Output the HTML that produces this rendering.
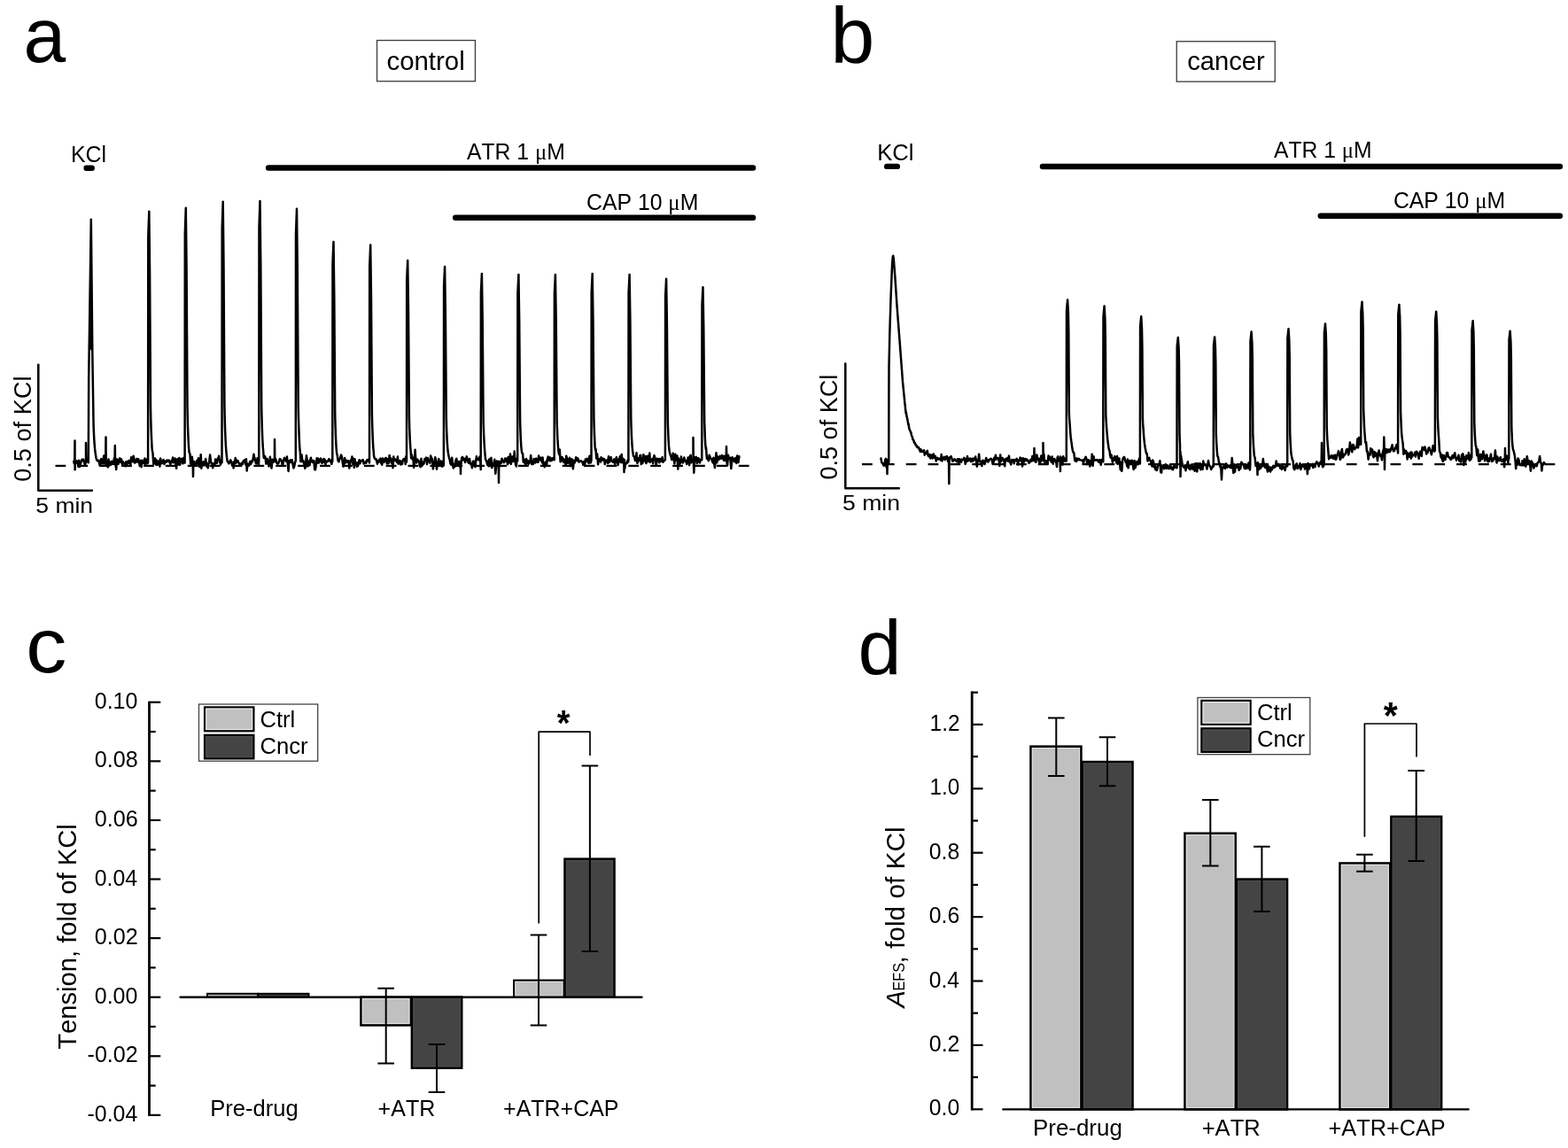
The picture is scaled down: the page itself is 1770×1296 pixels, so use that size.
<!DOCTYPE html>
<html lang="en">
<head>
<meta charset="utf-8">
<title>Figure</title>
<style>
html,body{margin:0;padding:0;background:#fff;}
body{width:1770px;height:1296px;overflow:hidden;}
svg{display:block;}
svg text{font-family:'Liberation Sans', sans-serif;fill:#000;font-kerning:none;}
</style>
</head>
<body>
<svg width="1770" height="1296" viewBox="0 0 1770 1296">
<rect width="1770" height="1296" fill="#fff"/>
<line x1="62.5" y1="525.9" x2="846" y2="525.9" stroke="#000" stroke-width="2.1" stroke-dasharray="11.8 13.08"/>
<line x1="973.0" y1="524.1" x2="1757" y2="524.1" stroke="#000" stroke-width="2.1" stroke-dasharray="11.8 13.055"/>
<path d="M100.7,391.6 L100.8,384.8 L100.9,377.9 L101.0,371.0 L101.1,364.2 L101.2,357.3 L101.3,350.5 L101.4,343.6 L101.5,336.8 L101.6,329.9 L101.7,323.1 L101.8,316.2 L101.9,309.4 L102.0,302.5 L102.1,295.7 L102.2,288.8 L102.3,282.0 L102.4,275.1 L102.5,268.3 L102.6,261.4 L102.7,254.6 L102.8,247.7 L102.9,257.5 L103.0,267.3 L103.1,277.1 L103.2,286.9 L103.3,296.6 L103.4,306.4 L103.5,316.2 L103.6,326.5 L103.7,336.8 L103.8,347.1 L103.9,357.3 L104.0,367.6 L104.1,377.9 L104.2,388.2 L104.3,398.5Z M167.2,394.4 L167.3,267.1 L167.4,264.3 L167.5,261.4 L167.6,258.6 L167.7,255.8 L167.8,253.0 L167.9,250.1 L168.0,247.3 L168.1,244.5 L168.2,241.6 L168.3,238.8 L168.4,247.6 L168.5,256.5 L168.6,265.3 L168.7,274.2 L168.8,283.0 L168.9,291.9 L169.0,300.7 L169.1,309.5 L169.2,326.2 L169.3,342.9 L169.4,359.5 L169.5,376.2 L169.6,392.9 L169.7,409.5 L169.8,426.2 L169.9,442.9 L170.0,459.5Z M208.7,392.6 L208.8,263.4 L208.9,260.5 L209.0,257.7 L209.1,254.8 L209.2,251.9 L209.3,249.1 L209.4,246.2 L209.5,243.3 L209.6,240.4 L209.7,237.6 L209.8,234.7 L209.9,243.7 L210.0,252.6 L210.1,261.6 L210.2,270.6 L210.3,279.6 L210.4,288.5 L210.5,297.5 L210.6,306.5 L210.7,323.4 L210.8,340.3 L210.9,357.2 L211.0,374.1 L211.1,391.0 L211.2,407.9 L211.3,424.8 L211.4,441.7 L211.5,458.6Z M250.6,389.5 L250.7,257.1 L250.8,254.2 L250.9,251.2 L251.0,248.3 L251.1,245.3 L251.2,242.4 L251.3,239.5 L251.4,236.5 L251.5,233.6 L251.6,230.6 L251.7,227.7 L251.8,236.9 L251.9,246.1 L252.0,255.3 L252.1,264.5 L252.2,273.7 L252.3,282.8 L252.4,292.0 L252.5,301.2 L252.6,318.5 L252.7,335.9 L252.8,353.2 L252.9,370.5 L253.0,387.8 L253.1,405.1 L253.2,422.5 L253.3,439.8 L253.4,457.1Z M292.4,389.1 L292.5,256.4 L292.6,253.4 L292.7,250.5 L292.8,247.5 L292.9,244.6 L293.0,241.6 L293.1,238.7 L293.2,235.7 L293.3,232.8 L293.4,229.8 L293.5,226.9 L293.6,236.1 L293.7,245.3 L293.8,254.5 L293.9,263.8 L294.0,273.0 L294.1,282.2 L294.2,291.4 L294.3,300.6 L294.4,318.0 L294.5,335.4 L294.6,352.7 L294.7,370.1 L294.8,387.5 L294.9,404.8 L295.0,422.2 L295.1,439.6 L295.2,456.9Z M333.9,392.7 L334.0,264.3 L334.1,261.5 L334.2,258.6 L334.3,255.8 L334.4,252.9 L334.5,250.1 L334.6,247.2 L334.7,244.4 L334.8,241.5 L334.9,238.7 L335.0,235.8 L335.1,244.7 L335.2,253.6 L335.3,262.5 L335.4,271.5 L335.5,280.4 L335.6,289.3 L335.7,298.2 L335.8,307.1 L335.9,323.9 L336.0,340.7 L336.1,357.5 L336.2,374.3 L336.3,391.1 L336.4,407.9 L336.5,424.7 L336.6,441.5 L336.7,458.3Z M375.4,409.4 L375.5,297.7 L375.6,295.2 L375.7,292.7 L375.8,290.3 L375.9,287.8 L376.0,285.3 L376.1,282.8 L376.2,280.3 L376.3,277.9 L376.4,275.4 L376.5,272.9 L376.6,280.7 L376.7,288.4 L376.8,296.2 L376.9,303.9 L377.0,311.7 L377.1,319.4 L377.2,327.2 L377.3,334.9 L377.4,349.5 L377.5,364.1 L377.6,378.8 L377.7,393.4 L377.8,408.0 L377.9,422.6 L378.0,437.2 L378.1,451.8 L378.2,466.4Z M417.1,411.0 L417.2,301.0 L417.3,298.6 L417.4,296.2 L417.5,293.7 L417.6,291.3 L417.7,288.8 L417.8,286.4 L417.9,283.9 L418.0,281.5 L418.1,279.0 L418.2,276.6 L418.3,284.2 L418.4,291.9 L418.5,299.5 L418.6,307.2 L418.7,314.8 L418.8,322.4 L418.9,330.1 L419.0,337.7 L419.1,352.1 L419.2,366.5 L419.3,380.9 L419.4,395.3 L419.5,409.7 L419.6,424.1 L419.7,438.4 L419.8,452.8 L419.9,467.2Z M459.1,418.8 L459.2,316.7 L459.3,314.4 L459.4,312.2 L459.5,309.9 L459.6,307.6 L459.7,305.3 L459.8,303.1 L459.9,300.8 L460.0,298.5 L460.1,296.3 L460.2,294.0 L460.3,301.1 L460.4,308.2 L460.5,315.3 L460.6,322.4 L460.7,329.5 L460.8,336.6 L460.9,343.7 L461.0,350.8 L461.1,364.1 L461.2,377.5 L461.3,390.9 L461.4,404.2 L461.5,417.6 L461.6,431.0 L461.7,444.3 L461.8,457.7 L461.9,471.1Z M501.0,422.0 L501.1,323.0 L501.2,320.8 L501.3,318.6 L501.4,316.4 L501.5,314.2 L501.6,312.0 L501.7,309.8 L501.8,307.6 L501.9,305.4 L502.0,303.2 L502.1,301.0 L502.2,307.9 L502.3,314.8 L502.4,321.6 L502.5,328.5 L502.6,335.4 L502.7,342.3 L502.8,349.1 L502.9,356.0 L503.0,369.0 L503.1,381.9 L503.2,394.9 L503.3,407.8 L503.4,420.8 L503.5,433.7 L503.6,446.7 L503.7,459.6 L503.8,472.6Z M542.8,425.6 L542.9,330.3 L543.0,328.2 L543.1,326.1 L543.2,323.9 L543.3,321.8 L543.4,319.7 L543.5,317.6 L543.6,315.5 L543.7,313.3 L543.8,311.2 L543.9,309.1 L544.0,315.7 L544.1,322.3 L544.2,329.0 L544.3,335.6 L544.4,342.2 L544.5,348.8 L544.6,355.5 L544.7,362.1 L544.8,374.6 L544.9,387.0 L545.0,399.5 L545.1,412.0 L545.2,424.5 L545.3,436.9 L545.4,449.4 L545.5,461.9 L545.6,474.4Z M584.3,426.0 L584.4,331.0 L584.5,328.9 L584.6,326.8 L584.7,324.7 L584.8,322.6 L584.9,320.5 L585.0,318.3 L585.1,316.2 L585.2,314.1 L585.3,312.0 L585.4,309.9 L585.5,316.5 L585.6,323.1 L585.7,329.7 L585.8,336.3 L585.9,342.9 L586.0,349.5 L586.1,356.1 L586.2,362.7 L586.3,375.1 L586.4,387.5 L586.5,400.0 L586.6,412.4 L586.7,424.8 L586.8,437.3 L586.9,449.7 L587.0,462.1 L587.1,474.6Z M625.8,425.5 L625.9,330.9 L626.0,328.8 L626.1,326.7 L626.2,324.6 L626.3,322.5 L626.4,320.4 L626.5,318.3 L626.6,316.2 L626.7,314.1 L626.8,312.0 L626.9,309.9 L627.0,316.5 L627.1,323.0 L627.2,329.6 L627.3,336.2 L627.4,342.7 L627.5,349.3 L627.6,355.9 L627.7,362.4 L627.8,374.8 L627.9,387.2 L628.0,399.5 L628.1,411.9 L628.2,424.3 L628.3,436.7 L628.4,449.0 L628.5,461.4 L628.6,473.8Z M667.6,425.1 L667.7,330.2 L667.8,328.1 L667.9,326.0 L668.0,323.9 L668.1,321.8 L668.2,319.6 L668.3,317.5 L668.4,315.4 L668.5,313.3 L668.6,311.2 L668.7,309.1 L668.8,315.7 L668.9,322.3 L669.0,328.9 L669.1,335.5 L669.2,342.1 L669.3,348.6 L669.4,355.2 L669.5,361.8 L669.6,374.2 L669.7,386.7 L669.8,399.1 L669.9,411.5 L670.0,423.9 L670.1,436.3 L670.2,448.8 L670.3,461.2 L670.4,473.6Z M709.5,424.9 L709.6,330.8 L709.7,328.7 L709.8,326.6 L709.9,324.5 L710.0,322.4 L710.1,320.4 L710.2,318.3 L710.3,316.2 L710.4,314.1 L710.5,312.0 L710.6,309.9 L710.7,316.4 L710.8,323.0 L710.9,329.5 L711.0,336.0 L711.1,342.6 L711.2,349.1 L711.3,355.6 L711.4,362.2 L711.5,374.5 L711.6,386.8 L711.7,399.1 L711.8,411.4 L711.9,423.7 L712.0,436.1 L712.1,448.4 L712.2,460.7 L712.3,473.0Z M751.0,427.1 L751.1,335.1 L751.2,333.1 L751.3,331.0 L751.4,329.0 L751.5,327.0 L751.6,324.9 L751.7,322.9 L751.8,320.8 L751.9,318.8 L752.0,316.7 L752.1,314.7 L752.2,321.1 L752.3,327.5 L752.4,333.9 L752.5,340.2 L752.6,346.6 L752.7,353.0 L752.8,359.4 L752.9,365.8 L753.0,377.8 L753.1,389.8 L753.2,401.9 L753.3,413.9 L753.4,425.9 L753.5,438.0 L753.6,450.0 L753.7,462.0 L753.8,474.1Z M792.4,431.4 L792.5,343.8 L792.6,341.8 L792.7,339.9 L792.8,337.9 L792.9,336.0 L793.0,334.0 L793.1,332.1 L793.2,330.1 L793.3,328.2 L793.4,326.2 L793.5,324.3 L793.6,330.4 L793.7,336.5 L793.8,342.6 L793.9,348.6 L794.0,354.7 L794.1,360.8 L794.2,366.9 L794.3,373.0 L794.4,384.4 L794.5,395.9 L794.6,407.4 L794.7,418.8 L794.8,430.3 L794.9,441.8 L795.0,453.2 L795.1,464.7 L795.2,476.2Z M1203.9,407.3 L1204.0,350.5 L1204.1,349.4 L1204.2,348.3 L1204.3,347.2 L1204.4,346.1 L1204.5,345.0 L1204.6,343.9 L1204.7,342.8 L1204.8,341.7 L1204.9,340.6 L1205.0,339.5 L1205.1,338.4 L1205.2,340.2 L1205.3,342.0 L1205.4,343.8 L1205.5,345.7 L1205.6,347.5 L1205.7,349.3 L1205.8,351.1 L1205.9,352.9 L1206.0,358.4 L1206.1,363.8 L1206.2,369.3 L1206.3,374.7 L1206.4,392.8 L1206.5,411.0 L1206.6,429.1 L1206.7,447.3 L1206.8,465.4Z M1245.4,412.1 L1245.5,357.2 L1245.6,356.1 L1245.7,355.1 L1245.8,354.0 L1245.9,353.0 L1246.0,351.9 L1246.1,350.8 L1246.2,349.8 L1246.3,348.7 L1246.4,347.6 L1246.5,346.6 L1246.6,345.5 L1246.7,347.3 L1246.8,349.0 L1246.9,350.8 L1247.0,352.5 L1247.1,354.3 L1247.2,356.0 L1247.3,357.8 L1247.4,359.6 L1247.5,364.8 L1247.6,370.1 L1247.7,375.3 L1247.8,380.6 L1247.9,398.2 L1248.0,415.7 L1248.1,433.2 L1248.2,450.8 L1248.3,468.3Z M1287.0,420.1 L1287.1,368.3 L1287.2,367.3 L1287.3,366.3 L1287.4,365.3 L1287.5,364.3 L1287.6,363.3 L1287.7,362.3 L1287.8,361.3 L1287.9,360.3 L1288.0,359.3 L1288.1,358.3 L1288.2,357.3 L1288.3,359.0 L1288.4,360.6 L1288.5,362.3 L1288.6,363.9 L1288.7,365.6 L1288.8,367.3 L1288.9,368.9 L1289.0,370.6 L1289.1,375.5 L1289.2,380.5 L1289.3,385.5 L1289.4,390.4 L1289.5,407.0 L1289.6,423.5 L1289.7,440.1 L1289.8,456.6 L1289.9,473.2Z M1328.6,436.6 L1328.7,390.8 L1328.8,389.9 L1328.9,389.0 L1329.0,388.2 L1329.1,387.3 L1329.2,386.4 L1329.3,385.5 L1329.4,384.6 L1329.5,383.7 L1329.6,382.9 L1329.7,382.0 L1329.8,381.1 L1329.9,382.6 L1330.0,384.0 L1330.1,385.5 L1330.2,387.0 L1330.3,388.4 L1330.4,389.9 L1330.5,391.3 L1330.6,392.8 L1330.7,397.2 L1330.8,401.6 L1330.9,406.0 L1331.0,410.3 L1331.1,426.4 L1331.2,442.5 L1331.3,458.6 L1331.4,474.7 L1331.5,490.8Z M1369.9,436.2 L1370.0,390.2 L1370.1,389.3 L1370.2,388.4 L1370.3,387.6 L1370.4,386.7 L1370.5,385.8 L1370.6,384.9 L1370.7,384.0 L1370.8,383.1 L1370.9,382.2 L1371.0,381.3 L1371.1,380.4 L1371.2,381.9 L1371.3,383.3 L1371.4,384.8 L1371.5,386.3 L1371.6,387.7 L1371.7,389.2 L1371.8,390.7 L1371.9,392.1 L1372.0,396.5 L1372.1,401.0 L1372.2,405.4 L1372.3,409.8 L1372.4,425.9 L1372.5,442.1 L1372.6,458.2 L1372.7,474.4 L1372.8,490.5Z M1411.4,432.6 L1411.5,384.8 L1411.6,383.9 L1411.7,383.0 L1411.8,382.0 L1411.9,381.1 L1412.0,380.2 L1412.1,379.2 L1412.2,378.3 L1412.3,377.4 L1412.4,376.5 L1412.5,375.5 L1412.6,374.6 L1412.7,376.1 L1412.8,377.7 L1412.9,379.2 L1413.0,380.7 L1413.1,382.2 L1413.2,383.8 L1413.3,385.3 L1413.4,386.8 L1413.5,391.4 L1413.6,396.0 L1413.7,400.5 L1413.8,405.1 L1413.9,421.9 L1414.0,438.7 L1414.1,455.4 L1414.2,472.2 L1414.3,489.0Z M1453.3,430.4 L1453.4,381.6 L1453.5,380.7 L1453.6,379.7 L1453.7,378.8 L1453.8,377.8 L1453.9,376.9 L1454.0,375.9 L1454.1,375.0 L1454.2,374.0 L1454.3,373.1 L1454.4,372.1 L1454.5,371.2 L1454.6,372.8 L1454.7,374.3 L1454.8,375.9 L1454.9,377.4 L1455.0,379.0 L1455.1,380.5 L1455.2,382.1 L1455.3,383.7 L1455.4,388.3 L1455.5,393.0 L1455.6,397.7 L1455.7,402.4 L1455.8,419.5 L1455.9,436.6 L1456.0,453.8 L1456.1,470.9 L1456.2,488.1Z M1494.8,425.1 L1494.9,376.2 L1495.0,375.2 L1495.1,374.2 L1495.2,373.2 L1495.3,372.3 L1495.4,371.3 L1495.5,370.3 L1495.6,369.3 L1495.7,368.3 L1495.8,367.4 L1495.9,366.4 L1496.0,365.4 L1496.1,366.9 L1496.2,368.4 L1496.3,370.0 L1496.4,371.5 L1496.5,373.0 L1496.6,374.5 L1496.7,376.0 L1496.8,377.6 L1496.9,382.2 L1497.0,386.9 L1497.1,391.5 L1497.2,396.1 L1497.3,413.3 L1497.4,430.4 L1497.5,447.5 L1497.6,464.7 L1497.7,481.8Z M1536.3,401.2 L1536.4,351.6 L1536.5,350.7 L1536.6,349.7 L1536.7,348.7 L1536.8,347.7 L1536.9,346.7 L1537.0,345.7 L1537.1,344.7 L1537.2,343.8 L1537.3,342.8 L1537.4,341.8 L1537.5,340.8 L1537.6,342.6 L1537.7,344.3 L1537.8,346.1 L1537.9,347.9 L1538.0,349.6 L1538.1,351.4 L1538.2,353.2 L1538.3,354.9 L1538.4,359.9 L1538.5,364.8 L1538.6,369.7 L1538.7,374.7 L1538.8,392.3 L1538.9,409.9 L1539.0,427.4 L1539.1,445.0 L1539.2,462.6Z M1578.2,405.1 L1578.3,354.9 L1578.4,353.9 L1578.5,352.9 L1578.6,351.9 L1578.7,350.9 L1578.8,349.9 L1578.9,348.9 L1579.0,347.9 L1579.1,346.9 L1579.2,345.9 L1579.3,344.9 L1579.4,343.9 L1579.5,345.6 L1579.6,347.3 L1579.7,349.1 L1579.8,350.8 L1579.9,352.5 L1580.0,354.2 L1580.1,355.9 L1580.2,357.6 L1580.3,362.6 L1580.4,367.5 L1580.5,372.4 L1580.6,377.3 L1580.7,395.0 L1580.8,412.8 L1580.9,430.5 L1581.0,448.2 L1581.1,466.0Z M1620.0,411.0 L1620.1,362.2 L1620.2,361.3 L1620.3,360.3 L1620.4,359.4 L1620.5,358.4 L1620.6,357.5 L1620.7,356.5 L1620.8,355.6 L1620.9,354.6 L1621.0,353.7 L1621.1,352.7 L1621.2,351.8 L1621.3,353.5 L1621.4,355.2 L1621.5,356.9 L1621.6,358.6 L1621.7,360.3 L1621.8,362.0 L1621.9,363.7 L1622.0,365.4 L1622.1,370.2 L1622.2,375.0 L1622.3,379.8 L1622.4,384.6 L1622.5,401.9 L1622.6,419.1 L1622.7,436.4 L1622.8,453.7 L1622.9,470.9Z M1661.4,420.8 L1661.5,372.5 L1661.6,371.6 L1661.7,370.7 L1661.8,369.7 L1661.9,368.8 L1662.0,367.9 L1662.1,367.0 L1662.2,366.0 L1662.3,365.1 L1662.4,364.2 L1662.5,363.2 L1662.6,362.3 L1662.7,363.9 L1662.8,365.4 L1662.9,367.0 L1663.0,368.5 L1663.1,370.1 L1663.2,371.7 L1663.3,373.2 L1663.4,374.8 L1663.5,379.4 L1663.6,384.1 L1663.7,388.7 L1663.8,393.4 L1663.9,410.4 L1664.0,427.3 L1664.1,444.3 L1664.2,461.3 L1664.3,478.3Z M1703.4,428.7 L1703.5,383.4 L1703.6,382.5 L1703.7,381.6 L1703.8,380.8 L1703.9,379.9 L1704.0,379.0 L1704.1,378.1 L1704.2,377.3 L1704.3,376.4 L1704.4,375.5 L1704.5,374.7 L1704.6,373.8 L1704.7,375.3 L1704.8,376.8 L1704.9,378.2 L1705.0,379.7 L1705.1,381.2 L1705.2,382.7 L1705.3,384.2 L1705.4,385.6 L1705.5,390.0 L1705.6,394.4 L1705.7,398.8 L1705.8,403.1 L1705.9,419.1 L1706.0,435.0 L1706.1,451.0 L1706.2,466.9 L1706.3,482.9Z" fill="#000" stroke="none"/>
<path d="M83.2,521.0 L83.8,523.3 L84.2,521.8 L84.5,497.5 L84.6,530.3 L84.8,521.8 L85.2,523.1 L86.0,522.5 L86.8,520.4 L87.7,522.6 L88.4,526.8 L89.0,519.8 L89.9,527.0 L90.6,524.8 L91.5,521.5 L92.2,519.0 L93.1,520.1 L93.8,518.5 L94.7,520.1 L95.7,524.1 L96.4,523.9 L96.7,521.8 L97.0,519.3 L97.0,500.0 L97.3,521.8 L97.9,517.4 L98.8,518.5 L99.7,519.6 L99.8,522.2 L99.9,497.8 L100.0,473.8 L100.1,449.8 L100.2,425.9 L100.3,419.0 L100.4,412.2 L100.5,405.3 L100.6,398.5 L100.7,391.6 L100.8,384.8 L100.9,377.9 L101.0,371.0 L101.1,364.2 L101.2,357.3 L101.3,350.5 L101.4,343.6 L101.5,336.8 L101.6,329.9 L101.7,323.1 L101.8,316.2 L101.9,309.4 L102.0,302.5 L102.1,295.7 L102.2,288.8 L102.3,282.0 L102.4,275.1 L102.5,268.3 L102.6,261.4 L102.7,254.6 L102.8,247.7 L102.8,247.7 L102.9,257.5 L103.0,267.3 L103.1,277.1 L103.2,286.9 L103.3,296.6 L103.4,306.4 L103.5,316.2 L103.6,326.5 L103.7,336.8 L103.8,347.1 L103.9,357.3 L104.0,367.6 L104.1,377.9 L104.2,388.2 L104.3,398.5 L104.4,404.8 L104.5,411.1 L104.6,417.4 L104.7,423.8 L104.8,430.1 L104.9,436.4 L105.0,443.2 L105.1,448.7 L105.2,455.6 L105.3,460.5 L105.4,468.5 L105.5,475.5 L105.6,481.2 L105.7,483.3 L106.2,494.5 L106.7,502.1 L107.2,507.7 L107.7,511.6 L108.5,516.8 L109.2,519.5 L110.0,519.6 L110.7,520.7 L111.7,519.8 L112.6,525.5 L113.5,525.4 L114.3,517.9 L115.1,522.8 L115.8,522.2 L116.4,523.5 L117.2,514.4 L118.0,523.2 L118.7,523.6 L119.2,521.8 L119.5,493.5 L119.7,525.2 L119.8,521.8 L120.3,521.7 L121.1,521.3 L121.7,527.4 L122.5,518.4 L123.5,524.8 L124.4,521.6 L125.3,524.7 L126.2,520.8 L127.2,523.7 L128.1,523.8 L128.9,517.3 L129.5,521.8 L129.5,524.2 L129.8,503.0 L130.1,521.8 L130.4,522.2 L131.2,530.0 L131.9,518.4 L132.6,522.5 L133.6,523.7 L134.4,518.7 L135.2,517.4 L136.1,521.8 L137.0,518.4 L138.0,524.8 L138.9,521.3 L139.6,523.0 L140.5,523.0 L141.5,526.2 L142.3,521.3 L142.9,526.1 L143.9,521.0 L144.8,522.8 L145.5,520.0 L146.4,521.6 L147.3,524.9 L148.1,516.2 L149.1,518.5 L149.9,521.2 L150.6,514.7 L151.2,517.0 L152.0,522.6 L152.8,522.1 L153.5,520.4 L154.4,518.0 L155.4,521.6 L156.2,518.2 L157.0,521.7 L157.8,526.1 L158.8,520.1 L159.6,527.2 L160.2,519.8 L160.9,521.9 L161.8,523.0 L162.4,520.9 L163.4,517.5 L164.1,524.7 L165.1,520.9 L165.7,518.5 L166.4,523.3 L167.1,522.3 L167.2,394.4 L167.3,267.1 L167.4,264.3 L167.5,261.4 L167.6,258.6 L167.7,255.8 L167.8,253.0 L167.9,250.1 L168.0,247.3 L168.1,244.5 L168.2,241.6 L168.3,238.8 L168.3,238.8 L168.4,247.6 L168.5,256.5 L168.6,265.3 L168.7,274.2 L168.8,283.0 L168.9,291.9 L169.0,300.7 L169.1,309.5 L169.2,326.2 L169.3,342.9 L169.4,359.5 L169.5,376.2 L169.6,392.9 L169.7,409.5 L169.8,426.2 L169.9,442.7 L170.0,459.5 L170.1,464.2 L170.2,469.5 L170.3,474.1 L170.4,477.6 L170.5,481.0 L170.6,484.9 L171.1,496.4 L171.6,506.6 L172.1,509.8 L172.4,510.8 L173.3,523.8 L174.0,518.4 L175.0,517.3 L176.0,524.6 L176.7,519.6 L177.5,524.9 L178.3,521.8 L178.9,523.2 L179.6,520.1 L180.4,526.6 L181.1,517.4 L182.0,522.1 L182.8,523.1 L183.5,521.2 L184.5,519.0 L185.5,524.0 L186.4,520.7 L187.1,521.3 L187.8,521.7 L188.4,519.5 L189.3,520.6 L190.1,519.7 L190.7,519.6 L191.7,522.6 L192.4,524.3 L193.0,521.2 L193.8,519.8 L194.4,521.8 L195.0,516.6 L195.7,522.3 L196.5,521.8 L197.5,517.4 L198.2,523.5 L199.1,528.8 L200.0,518.4 L200.7,518.3 L201.5,524.6 L202.3,517.1 L203.2,524.7 L203.9,519.8 L204.9,517.9 L205.8,520.3 L206.4,523.3 L207.2,517.0 L207.8,521.6 L208.5,519.5 L208.6,522.5 L208.7,392.6 L208.8,263.4 L208.9,260.5 L209.0,257.7 L209.1,254.8 L209.2,251.9 L209.3,249.1 L209.4,246.2 L209.5,243.3 L209.6,240.4 L209.7,237.6 L209.8,234.7 L209.8,234.7 L209.9,243.7 L210.0,252.6 L210.1,261.6 L210.2,270.6 L210.3,279.6 L210.4,288.5 L210.5,297.5 L210.6,306.5 L210.7,323.4 L210.8,340.3 L210.9,357.2 L211.0,374.1 L211.1,391.0 L211.2,407.9 L211.3,424.8 L211.4,441.8 L211.5,458.9 L211.6,462.8 L211.7,469.0 L211.8,472.8 L211.9,476.6 L212.0,480.8 L212.1,483.6 L212.6,496.6 L213.1,505.7 L213.6,510.8 L214.4,512.1 L215.2,523.6 L216.2,524.8 L216.8,515.7 L217.6,522.8 L217.7,521.8 L218.0,538.0 L218.3,523.5 L218.3,521.8 L218.9,521.0 L219.9,525.5 L220.9,525.9 L221.6,521.5 L222.4,519.7 L223.1,523.5 L224.0,517.2 L224.9,526.8 L225.9,526.5 L226.7,513.2 L227.4,528.7 L228.1,523.1 L228.8,522.2 L229.5,521.4 L230.3,525.4 L231.2,523.4 L232.2,517.9 L233.1,526.4 L234.0,523.3 L234.7,528.3 L235.5,523.9 L236.2,521.2 L237.1,513.6 L237.9,520.4 L238.6,522.9 L239.4,523.0 L240.2,528.2 L240.8,524.1 L241.5,523.3 L242.4,525.6 L243.1,518.6 L243.9,521.2 L244.9,522.7 L245.7,517.7 L246.4,517.5 L247.1,514.8 L248.1,521.1 L249.0,524.5 L249.6,519.7 L250.5,522.2 L250.6,389.5 L250.7,257.1 L250.8,254.2 L250.9,251.2 L251.0,248.3 L251.1,245.3 L251.2,242.4 L251.3,239.5 L251.4,236.5 L251.5,233.6 L251.6,230.6 L251.7,227.7 L251.7,227.7 L251.8,236.9 L251.9,246.1 L252.0,255.3 L252.1,264.5 L252.2,273.7 L252.3,282.8 L252.4,292.0 L252.5,301.2 L252.6,318.5 L252.7,335.9 L252.8,353.2 L252.9,370.5 L253.0,387.8 L253.1,405.1 L253.2,422.5 L253.3,439.6 L253.4,456.8 L253.5,462.3 L253.6,466.7 L253.7,471.6 L253.8,475.3 L253.9,478.8 L254.0,482.5 L254.5,495.2 L255.0,505.2 L255.5,510.9 L256.1,516.5 L256.7,521.1 L257.5,521.2 L258.3,523.3 L259.3,521.5 L260.3,519.4 L261.3,522.0 L262.0,525.2 L262.8,522.3 L263.6,528.4 L264.4,520.8 L265.1,523.2 L265.7,517.1 L266.5,522.7 L267.4,519.8 L268.4,519.9 L269.1,521.9 L270.1,523.6 L271.1,524.2 L271.7,524.6 L272.7,522.9 L273.7,524.2 L274.6,520.7 L275.3,520.3 L276.0,519.3 L276.6,521.3 L277.2,524.5 L277.9,518.3 L278.7,531.5 L279.4,523.5 L280.4,525.9 L281.3,525.2 L282.3,520.9 L283.2,524.0 L284.2,520.2 L284.9,521.3 L285.5,519.2 L286.4,512.8 L287.2,516.4 L288.2,520.1 L289.0,523.3 L289.7,523.4 L290.6,517.2 L291.3,520.6 L292.0,524.4 L292.3,519.6 L292.4,389.1 L292.5,256.4 L292.6,253.4 L292.7,250.5 L292.8,247.5 L292.9,244.6 L293.0,241.6 L293.1,238.7 L293.2,235.7 L293.3,232.8 L293.4,229.8 L293.5,226.9 L293.6,236.1 L293.7,245.3 L293.8,254.5 L293.9,263.8 L294.0,273.0 L294.1,282.2 L294.2,291.4 L294.3,300.6 L294.4,318.0 L294.5,335.4 L294.6,352.7 L294.7,370.1 L294.8,387.5 L294.9,404.8 L295.0,422.2 L295.1,439.6 L295.2,456.7 L295.3,462.4 L295.4,468.1 L295.5,471.0 L295.6,475.3 L295.7,478.6 L295.8,482.7 L296.3,496.3 L296.8,504.9 L297.3,510.6 L297.8,517.0 L298.8,514.8 L299.6,516.7 L300.3,523.6 L300.9,523.4 L301.7,518.1 L302.5,521.5 L303.5,526.4 L304.3,523.4 L304.9,515.8 L305.6,524.0 L306.5,528.5 L307.5,518.8 L308.4,521.7 L309.3,519.5 L309.7,521.0 L309.9,519.6 L310.0,496.0 L310.3,521.0 L310.6,517.5 L311.3,518.5 L312.1,522.0 L313.0,523.4 L313.7,523.4 L314.5,522.8 L315.2,520.0 L315.9,518.1 L316.6,518.4 L317.6,519.9 L318.3,522.6 L318.9,525.6 L319.7,522.3 L320.5,518.2 L321.1,516.9 L321.7,519.6 L322.5,519.3 L323.3,521.0 L323.9,515.6 L324.6,521.3 L325.6,532.0 L326.3,520.5 L327.2,521.8 L327.9,519.4 L328.8,521.9 L329.6,519.3 L330.3,522.6 L331.3,528.4 L332.2,526.6 L333.0,522.4 L333.8,520.0 L333.9,392.7 L334.0,264.3 L334.1,261.5 L334.2,258.6 L334.3,255.8 L334.4,252.9 L334.5,250.1 L334.6,247.2 L334.7,244.4 L334.8,241.5 L334.9,238.7 L335.0,235.8 L335.1,244.7 L335.2,253.6 L335.3,262.5 L335.4,271.5 L335.5,280.4 L335.6,289.3 L335.7,298.2 L335.8,307.1 L335.9,323.9 L336.0,340.7 L336.1,357.5 L336.2,374.3 L336.3,391.1 L336.4,407.9 L336.5,424.7 L336.6,441.4 L336.7,457.7 L336.8,463.1 L336.9,468.8 L337.0,472.2 L337.1,475.6 L337.2,479.0 L337.3,482.1 L337.8,495.6 L338.3,505.7 L338.8,510.0 L339.4,521.0 L340.0,516.5 L340.6,513.4 L341.4,521.3 L342.4,520.0 L343.3,523.7 L344.3,528.8 L344.9,527.3 L345.9,514.2 L346.8,520.1 L347.6,526.4 L348.3,520.7 L348.9,524.5 L349.6,525.2 L350.2,519.2 L350.9,516.8 L351.8,520.2 L352.7,522.0 L353.5,520.1 L354.4,520.2 L355.2,530.1 L356.0,530.3 L356.7,525.4 L357.7,517.2 L358.3,522.5 L359.1,517.7 L359.8,522.5 L360.6,521.2 L361.3,521.0 L361.9,517.5 L362.8,519.0 L363.5,523.1 L364.1,520.1 L365.0,521.6 L365.6,518.0 L366.5,518.5 L367.4,524.5 L368.1,521.7 L368.9,520.5 L369.5,521.1 L370.5,520.5 L371.2,518.2 L372.1,518.8 L372.8,520.7 L373.7,521.9 L374.4,523.8 L375.2,516.9 L375.3,520.8 L375.4,409.4 L375.5,297.7 L375.6,295.2 L375.7,292.7 L375.8,290.3 L375.9,287.8 L376.0,285.3 L376.1,282.8 L376.2,280.3 L376.3,277.9 L376.4,275.4 L376.5,272.9 L376.6,280.7 L376.7,288.4 L376.8,296.2 L376.9,303.9 L377.0,311.7 L377.1,319.4 L377.2,327.2 L377.3,334.9 L377.4,349.5 L377.5,364.1 L377.6,378.8 L377.7,393.4 L377.8,408.0 L377.9,422.6 L378.0,437.2 L378.1,451.2 L378.2,466.2 L378.3,471.4 L378.4,475.4 L378.5,478.4 L378.6,481.4 L379.1,495.6 L379.6,505.3 L380.1,511.5 L380.7,513.8 L381.6,520.1 L382.4,521.3 L383.3,518.4 L384.2,516.4 L385.1,513.6 L386.1,516.5 L386.8,522.8 L387.7,526.8 L388.3,524.1 L389.2,516.9 L390.1,522.4 L391.0,520.9 L391.7,519.9 L392.7,521.9 L393.6,520.3 L394.3,528.6 L395.2,522.4 L396.1,519.3 L396.8,519.2 L397.4,515.4 L398.2,523.9 L398.9,517.7 L399.8,528.0 L400.5,518.3 L401.2,522.7 L402.0,522.2 L402.9,526.8 L403.5,522.5 L404.1,525.9 L404.9,521.6 L405.7,519.2 L406.4,523.3 L407.3,520.2 L407.9,520.2 L408.8,520.1 L409.6,519.1 L410.6,523.4 L411.6,523.0 L412.5,521.3 L413.3,522.6 L414.1,519.5 L415.0,519.3 L415.6,518.8 L416.5,520.9 L417.0,522.4 L417.1,411.0 L417.2,301.0 L417.3,298.6 L417.4,296.2 L417.5,293.7 L417.6,291.3 L417.7,288.8 L417.8,286.4 L417.9,283.9 L418.0,281.5 L418.1,279.0 L418.2,276.6 L418.3,284.2 L418.4,291.9 L418.5,299.5 L418.6,307.2 L418.7,314.8 L418.8,322.4 L418.9,330.1 L419.0,337.7 L419.1,352.1 L419.2,366.5 L419.3,380.9 L419.4,395.3 L419.5,409.7 L419.6,424.1 L419.7,438.4 L419.8,452.9 L419.9,467.6 L420.0,471.3 L420.1,475.0 L420.2,478.8 L420.3,482.5 L420.8,496.0 L421.3,505.1 L421.8,510.7 L422.1,514.8 L422.8,517.4 L423.8,518.5 L424.6,518.2 L425.3,521.2 L426.0,523.6 L426.9,521.5 L427.8,519.3 L428.5,521.3 L429.5,517.4 L430.3,522.7 L431.2,524.8 L432.1,517.5 L433.0,518.5 L433.6,521.7 L434.5,520.0 L435.3,516.9 L436.1,517.2 L436.8,523.4 L437.7,518.3 L438.3,523.2 L439.0,522.4 L439.6,514.0 L440.4,520.3 L441.4,517.5 L442.1,523.0 L442.9,520.3 L443.5,528.2 L444.3,515.6 L445.1,520.1 L445.8,518.4 L446.7,518.9 L447.5,520.6 L448.2,521.9 L448.9,515.6 L449.6,523.7 L450.6,520.4 L451.3,520.0 L452.3,524.6 L453.2,520.7 L454.0,523.9 L454.6,520.6 L455.3,518.6 L456.1,518.1 L457.1,517.7 L457.7,524.1 L458.3,515.2 L459.0,521.5 L459.1,418.8 L459.2,316.7 L459.3,314.4 L459.4,312.2 L459.5,309.9 L459.6,307.6 L459.7,305.3 L459.8,303.1 L459.9,300.8 L460.0,298.5 L460.1,296.3 L460.2,294.0 L460.3,301.1 L460.4,308.2 L460.5,315.3 L460.6,322.4 L460.7,329.5 L460.8,336.6 L460.9,343.7 L461.0,350.8 L461.1,364.1 L461.2,377.5 L461.3,390.9 L461.4,404.2 L461.5,417.6 L461.6,431.0 L461.7,444.3 L461.8,456.4 L461.9,471.9 L462.0,475.3 L462.1,478.3 L462.2,482.9 L462.7,494.9 L463.2,503.9 L463.7,509.9 L464.1,517.2 L464.8,513.2 L465.6,518.5 L466.4,516.6 L467.1,527.9 L467.8,523.3 L468.6,507.8 L469.3,519.4 L470.2,522.5 L471.2,518.5 L472.1,520.5 L472.9,520.5 L473.7,524.6 L474.6,527.2 L475.5,517.8 L476.3,526.1 L477.2,521.8 L478.0,524.1 L478.7,522.4 L479.4,518.3 L480.4,518.0 L481.1,516.6 L482.0,524.1 L482.9,517.1 L483.5,520.9 L484.5,521.3 L485.4,522.6 L486.2,514.6 L487.1,517.3 L488.0,518.4 L488.9,529.4 L489.8,522.1 L490.6,523.3 L491.3,516.3 L492.1,519.7 L493.0,529.7 L493.6,525.0 L494.6,524.7 L495.2,518.0 L496.2,523.6 L497.0,524.5 L497.6,520.6 L498.5,526.6 L499.5,526.4 L500.1,520.6 L500.7,525.7 L500.9,521.0 L501.0,422.0 L501.1,323.0 L501.2,320.8 L501.3,318.6 L501.4,316.4 L501.5,314.2 L501.6,312.0 L501.7,309.8 L501.8,307.6 L501.9,305.4 L502.0,303.2 L502.1,301.0 L502.2,307.9 L502.3,314.8 L502.4,321.6 L502.5,328.5 L502.6,335.4 L502.7,342.3 L502.8,349.1 L502.9,356.0 L503.0,369.0 L503.1,381.9 L503.2,394.9 L503.3,407.8 L503.4,420.8 L503.5,433.7 L503.6,446.7 L503.7,459.6 L503.8,471.4 L503.9,475.7 L504.0,480.0 L504.1,483.7 L504.6,496.1 L505.1,503.9 L505.6,509.5 L505.9,511.5 L506.8,516.1 L507.7,519.2 L508.5,523.4 L509.4,524.8 L510.2,516.8 L511.1,524.4 L511.8,528.5 L512.7,524.0 L513.6,526.6 L514.3,520.2 L515.3,517.7 L516.2,524.2 L516.9,523.3 L517.8,521.0 L518.7,526.5 L519.7,522.5 L519.7,521.0 L520.0,535.0 L520.3,521.0 L520.4,524.2 L521.3,516.6 L522.0,515.9 L522.9,519.2 L523.6,517.5 L524.2,518.2 L525.1,521.9 L526.1,517.8 L526.8,515.4 L527.6,517.9 L528.4,521.7 L529.3,522.8 L530.1,518.0 L530.7,523.1 L531.5,524.3 L532.1,523.6 L532.9,528.3 L533.8,520.9 L534.7,520.6 L535.6,526.2 L536.6,527.2 L537.2,520.5 L537.9,515.3 L538.8,518.9 L539.5,518.5 L540.4,519.3 L541.3,516.2 L542.0,515.2 L542.7,530.1 L542.7,519.9 L542.8,425.6 L542.9,330.3 L543.0,328.2 L543.1,326.1 L543.2,323.9 L543.3,321.8 L543.4,319.7 L543.5,317.6 L543.6,315.5 L543.7,313.3 L543.8,311.2 L543.9,309.1 L544.0,315.7 L544.1,322.3 L544.2,329.0 L544.3,335.6 L544.4,342.2 L544.5,348.8 L544.6,355.5 L544.7,362.1 L544.8,374.6 L544.9,387.0 L545.0,399.5 L545.1,412.0 L545.2,424.5 L545.3,436.9 L545.4,449.4 L545.5,462.6 L545.6,473.8 L545.7,478.6 L545.8,480.9 L546.3,494.4 L546.8,503.5 L547.3,510.5 L548.0,518.3 L548.7,519.8 L549.4,521.4 L550.2,524.8 L550.8,520.8 L551.5,526.2 L552.2,518.4 L552.8,526.1 L553.6,518.4 L554.5,516.8 L555.2,528.1 L556.0,524.7 L556.8,525.8 L557.5,522.4 L558.3,518.7 L559.3,534.7 L560.1,526.5 L560.9,520.5 L561.7,523.3 L562.7,522.2 L562.7,521.0 L563.0,545.0 L563.3,521.0 L563.6,527.0 L564.4,521.5 L565.1,520.9 L565.7,522.8 L566.5,517.8 L567.2,519.5 L568.1,520.3 L568.7,522.1 L569.5,521.6 L570.2,517.4 L571.1,517.9 L571.7,520.7 L572.3,517.9 L573.0,524.3 L573.6,516.0 L574.4,522.6 L575.4,519.3 L576.0,512.6 L576.8,523.9 L577.5,519.8 L578.2,515.6 L578.9,521.0 L579.9,519.9 L580.7,509.5 L581.4,520.3 L582.1,524.5 L582.9,526.5 L583.5,517.8 L584.2,520.3 L584.3,426.0 L584.4,331.0 L584.5,328.9 L584.6,326.8 L584.7,324.7 L584.8,322.6 L584.9,320.5 L585.0,318.3 L585.1,316.2 L585.2,314.1 L585.3,312.0 L585.4,309.9 L585.5,316.5 L585.6,323.1 L585.7,329.7 L585.8,336.3 L585.9,342.9 L586.0,349.5 L586.1,356.1 L586.2,362.7 L586.3,375.1 L586.4,387.5 L586.5,400.0 L586.6,412.4 L586.7,424.8 L586.8,437.3 L586.9,449.7 L587.0,462.0 L587.1,474.2 L587.2,478.0 L587.3,482.3 L587.8,494.7 L588.3,503.8 L588.8,509.0 L589.3,511.4 L590.1,512.0 L590.8,521.7 L591.7,518.8 L592.5,522.4 L593.4,525.5 L594.1,518.0 L595.0,523.0 L595.9,520.1 L596.7,523.9 L597.3,522.3 L598.3,522.2 L599.2,514.0 L600.2,524.2 L601.0,520.9 L601.9,523.7 L602.7,518.1 L603.7,519.4 L604.3,522.5 L605.3,517.6 L606.1,519.8 L606.7,521.7 L607.5,521.8 L608.1,514.5 L608.9,518.4 L609.6,519.2 L610.4,516.8 L611.2,520.1 L611.9,522.1 L612.5,516.4 L613.4,524.8 L614.1,522.5 L614.7,527.2 L615.5,522.7 L616.4,521.1 L617.1,524.8 L617.8,518.8 L618.7,515.6 L619.5,516.1 L620.4,520.2 L621.3,516.6 L621.9,520.2 L622.8,519.8 L623.8,517.2 L624.7,518.6 L625.5,516.8 L625.7,519.3 L625.8,425.5 L625.9,330.9 L626.0,328.8 L626.1,326.7 L626.2,324.6 L626.3,322.5 L626.4,320.4 L626.5,318.3 L626.6,316.2 L626.7,314.1 L626.8,312.0 L626.9,309.9 L627.0,316.5 L627.1,323.0 L627.2,329.6 L627.3,336.2 L627.4,342.7 L627.5,349.3 L627.6,355.9 L627.7,362.4 L627.8,374.8 L627.9,387.2 L628.0,399.5 L628.1,411.9 L628.2,424.3 L628.3,436.7 L628.4,449.0 L628.5,461.5 L628.6,474.6 L628.7,478.5 L628.8,480.2 L629.3,494.1 L629.8,501.9 L630.3,508.6 L631.1,513.0 L631.8,507.6 L632.6,521.3 L633.6,519.8 L634.4,515.9 L635.3,517.7 L636.0,521.7 L636.9,518.6 L637.6,519.8 L638.5,525.6 L639.2,514.7 L640.2,518.0 L640.9,523.1 L641.9,521.7 L642.9,516.8 L643.8,526.3 L644.5,519.6 L645.3,518.1 L646.1,519.9 L646.9,529.3 L647.8,519.8 L648.6,522.6 L649.5,520.1 L650.2,516.2 L651.0,520.1 L652.0,517.2 L652.7,518.6 L653.3,521.5 L654.2,521.1 L655.2,520.4 L655.9,520.2 L656.6,521.1 L657.6,522.1 L658.3,524.6 L659.2,520.9 L660.0,526.0 L660.9,518.4 L661.9,521.0 L662.8,517.7 L663.8,520.1 L664.5,523.0 L665.5,514.7 L666.1,520.5 L666.8,522.4 L667.4,519.6 L667.5,520.0 L667.6,425.1 L667.7,330.2 L667.8,328.1 L667.9,326.0 L668.0,323.9 L668.1,321.8 L668.2,319.6 L668.3,317.5 L668.4,315.4 L668.5,313.3 L668.6,311.2 L668.7,309.1 L668.8,315.7 L668.9,322.3 L669.0,328.9 L669.1,335.5 L669.2,342.1 L669.3,348.6 L669.4,355.2 L669.5,361.8 L669.6,374.2 L669.7,386.7 L669.8,399.1 L669.9,411.5 L670.0,423.9 L670.1,436.3 L670.2,448.8 L670.3,461.6 L670.4,473.9 L670.5,476.7 L670.6,480.0 L671.1,493.2 L671.6,503.9 L672.1,508.0 L672.5,506.8 L673.2,517.5 L674.1,512.4 L675.1,524.3 L675.8,517.9 L676.5,520.2 L677.3,518.3 L678.0,521.6 L678.6,516.2 L679.5,519.7 L680.4,517.6 L681.0,518.9 L682.0,518.1 L682.8,524.0 L683.6,519.7 L684.3,521.1 L685.2,519.4 L686.1,523.0 L687.0,515.2 L687.9,521.8 L688.7,517.5 L689.6,516.1 L690.5,520.6 L691.4,521.3 L692.0,521.7 L692.7,520.4 L693.3,518.4 L694.2,524.0 L695.1,519.9 L695.9,516.0 L696.8,519.8 L697.6,525.1 L698.3,520.5 L699.2,518.0 L700.0,515.1 L700.8,522.1 L701.7,512.9 L702.6,522.2 L703.5,518.0 L704.2,519.0 L704.3,519.3 L704.5,533.0 L704.8,519.0 L705.2,529.0 L706.1,522.7 L707.0,523.2 L707.7,523.0 L708.4,519.8 L709.3,521.5 L709.4,519.9 L709.5,424.9 L709.6,330.8 L709.7,328.7 L709.8,326.6 L709.9,324.5 L710.0,322.4 L710.1,320.4 L710.2,318.3 L710.3,316.2 L710.4,314.1 L710.5,312.0 L710.6,309.9 L710.7,316.4 L710.8,323.0 L710.9,329.5 L711.0,336.0 L711.1,342.6 L711.2,349.1 L711.3,355.6 L711.4,362.2 L711.5,374.5 L711.6,386.8 L711.7,399.1 L711.8,411.4 L711.9,423.7 L712.0,436.1 L712.1,448.4 L712.2,460.8 L712.3,473.5 L712.4,475.7 L712.5,480.3 L713.0,493.6 L713.5,502.1 L714.0,508.1 L715.0,514.9 L715.7,515.1 L716.4,517.1 L717.1,520.1 L717.9,515.8 L718.5,511.3 L719.4,523.0 L720.2,521.3 L721.0,517.2 L721.6,519.8 L722.5,514.1 L723.2,513.9 L723.8,524.1 L724.6,519.9 L725.4,522.9 L726.3,513.3 L727.2,518.1 L728.0,520.7 L728.8,515.1 L729.4,523.1 L730.2,521.0 L731.2,514.8 L732.0,520.4 L732.7,521.1 L733.3,511.6 L733.9,521.8 L734.6,519.0 L735.6,518.8 L736.3,518.1 L737.1,523.3 L737.9,516.2 L738.5,514.2 L739.3,516.4 L739.9,517.9 L740.7,525.5 L741.7,517.8 L742.6,519.4 L743.4,518.0 L744.2,522.3 L745.0,518.0 L745.9,520.9 L746.7,519.3 L747.6,516.3 L748.4,521.8 L749.1,520.4 L749.9,520.2 L750.9,519.0 L750.9,517.9 L751.0,427.1 L751.1,335.1 L751.2,333.1 L751.3,331.0 L751.4,329.0 L751.5,327.0 L751.6,324.9 L751.7,322.9 L751.8,320.8 L751.9,318.8 L752.0,316.7 L752.1,314.7 L752.2,321.1 L752.3,327.5 L752.4,333.9 L752.5,340.2 L752.6,346.6 L752.7,353.0 L752.8,359.4 L752.9,365.8 L753.0,377.8 L753.1,389.8 L753.2,401.9 L753.3,413.9 L753.4,425.9 L753.5,438.0 L753.6,450.0 L753.7,462.9 L753.8,473.4 L753.9,477.6 L754.0,481.5 L754.5,494.2 L755.0,503.4 L755.5,508.1 L755.7,509.7 L756.6,513.1 L757.5,515.5 L758.3,519.1 L759.0,518.6 L759.7,511.7 L760.4,517.4 L761.4,523.4 L762.3,512.8 L763.0,516.4 L763.7,519.4 L764.4,514.5 L765.3,529.6 L765.9,517.5 L766.8,524.2 L767.5,523.5 L768.3,521.1 L768.9,515.6 L769.8,520.5 L770.7,522.5 L771.4,521.6 L772.3,516.4 L772.9,518.1 L773.8,520.4 L774.5,521.3 L775.2,524.0 L775.9,520.7 L776.7,516.5 L777.5,520.3 L778.1,525.2 L778.8,515.1 L779.6,513.9 L780.3,522.3 L780.9,519.4 L781.8,518.7 L782.2,519.0 L782.5,521.4 L782.5,494.0 L782.8,519.0 L783.3,533.8 L784.2,516.5 L785.1,516.1 L785.8,515.8 L786.8,523.2 L787.7,517.3 L788.5,517.2 L789.3,521.6 L790.0,522.4 L790.7,518.8 L791.4,519.2 L792.2,519.3 L792.3,517.9 L792.4,431.4 L792.5,343.8 L792.6,341.8 L792.7,339.9 L792.8,337.9 L792.9,336.0 L793.0,334.0 L793.1,332.1 L793.2,330.1 L793.3,328.2 L793.4,326.2 L793.5,324.3 L793.6,330.4 L793.7,336.5 L793.8,342.6 L793.9,348.6 L794.0,354.7 L794.1,360.8 L794.2,366.9 L794.3,373.0 L794.4,384.4 L794.5,395.9 L794.6,407.4 L794.7,418.8 L794.8,430.3 L794.9,441.8 L795.0,453.2 L795.1,464.9 L795.2,476.5 L795.3,478.6 L795.8,493.6 L796.3,502.6 L796.8,507.2 L797.0,505.0 L797.9,517.7 L798.6,518.0 L799.3,518.7 L799.9,520.2 L800.6,513.7 L801.3,515.1 L802.3,517.9 L803.2,518.2 L803.9,520.4 L804.7,522.4 L805.4,516.7 L806.2,523.4 L806.9,528.0 L807.7,520.1 L808.5,511.2 L809.3,522.3 L809.9,515.4 L810.6,515.8 L811.2,519.1 L812.0,517.7 L812.8,514.9 L813.6,517.5 L814.3,517.8 L815.0,514.1 L816.0,516.7 L817.0,519.7 L817.6,514.7 L818.3,519.7 L819.0,515.4 L819.6,517.7 L819.7,519.0 L820.0,504.0 L820.3,519.0 L820.5,522.0 L821.1,525.5 L822.0,513.7 L822.7,518.2 L823.5,517.2 L824.3,516.9 L825.3,529.0 L826.0,522.1 L826.6,516.2 L827.6,517.8 L828.3,519.0 L829.0,521.3 L829.9,517.4 L830.6,517.0 L831.3,522.9 L832.2,514.4 L832.9,517.3 L833.5,522.0 L834.4,515.2" fill="none" stroke="#000" stroke-width="2.5" stroke-linejoin="round" stroke-linecap="round"/>
<path d="M994.5,517.6 L995.3,522.4 L996.1,522.7 L997.0,524.5 L997.8,525.8 L998.4,524.2 L999.4,518.9 L1000.0,517.8 L1000.6,527.3 L1001.2,521.2 L1001.4,523.3 L1001.5,535.0 L1001.8,521.2 L1002.2,518.9 L1003.0,518.5 L1003.3,521.8 L1003.4,451.4 L1003.5,414.2 L1003.6,409.6 L1003.7,404.9 L1003.8,400.3 L1003.9,395.6 L1004.0,391.0 L1004.1,386.3 L1004.2,381.7 L1004.3,377.0 L1004.4,373.8 L1004.5,370.6 L1004.6,367.4 L1004.7,364.2 L1004.8,360.9 L1004.9,357.7 L1005.0,354.5 L1005.1,351.3 L1005.2,348.1 L1005.3,344.8 L1005.4,341.6 L1005.5,338.4 L1005.6,335.2 L1005.7,332.7 L1005.8,330.2 L1005.9,327.7 L1006.0,325.3 L1006.1,322.8 L1006.2,320.3 L1006.3,317.8 L1006.4,315.3 L1006.5,312.8 L1006.6,310.4 L1006.7,307.9 L1006.8,305.4 L1006.9,302.9 L1007.0,300.4 L1007.1,298.0 L1007.2,296.8 L1007.3,295.6 L1007.4,294.5 L1007.5,293.3 L1007.6,292.1 L1007.7,291.0 L1007.8,289.8 L1007.9,289.5 L1008.0,289.2 L1008.1,289.0 L1008.2,288.7 L1008.3,289.1 L1008.4,289.6 L1008.5,290.1 L1008.6,290.5 L1008.7,291.0 L1008.8,292.3 L1008.9,293.6 L1009.0,294.9 L1009.1,296.2 L1009.2,297.5 L1009.3,298.8 L1009.4,300.1 L1009.5,301.4 L1009.6,302.7 L1009.7,304.0 L1009.8,305.3 L1009.9,306.6 L1010.0,307.9 L1010.1,309.2 L1010.2,310.5 L1010.3,311.8 L1010.4,313.1 L1010.5,314.6 L1010.6,316.1 L1010.7,317.6 L1010.8,319.2 L1010.9,320.7 L1011.0,322.2 L1011.1,323.7 L1011.2,325.3 L1011.3,326.8 L1011.4,328.3 L1011.5,329.9 L1011.6,331.4 L1011.7,332.9 L1011.8,334.4 L1011.9,336.0 L1012.0,337.5 L1012.1,339.0 L1012.2,340.5 L1012.3,342.1 L1012.4,343.6 L1012.5,345.1 L1012.6,346.4 L1012.7,347.7 L1012.8,349.0 L1012.9,350.3 L1013.0,351.6 L1013.1,352.9 L1013.2,354.3 L1013.3,355.6 L1013.4,356.9 L1013.5,358.2 L1013.6,359.5 L1013.7,360.8 L1013.8,362.1 L1013.9,363.4 L1014.0,364.7 L1014.1,366.0 L1014.2,367.3 L1014.3,368.6 L1014.4,369.9 L1014.5,371.2 L1014.6,372.5 L1014.7,373.8 L1014.8,375.1 L1014.9,376.4 L1015.0,377.7 L1015.1,379.0 L1015.2,380.3 L1015.3,381.6 L1015.4,382.9 L1015.5,384.2 L1015.6,385.5 L1015.7,386.8 L1015.8,388.1 L1015.9,389.5 L1016.0,390.8 L1016.1,392.1 L1016.2,393.5 L1016.3,394.8 L1016.4,396.1 L1016.5,397.5 L1016.6,398.8 L1016.7,400.2 L1016.8,401.5 L1016.9,402.8 L1017.0,404.2 L1017.1,405.5 L1017.2,406.8 L1017.3,408.2 L1017.4,409.5 L1017.5,410.8 L1017.6,412.2 L1017.7,413.5 L1017.8,414.8 L1017.9,416.2 L1018.0,417.5 L1018.1,418.9 L1018.2,420.2 L1018.3,421.5 L1018.4,422.9 L1018.5,424.2 L1018.6,425.5 L1018.7,426.9 L1018.8,428.2 L1018.9,429.5 L1019.0,430.9 L1019.1,431.9 L1019.2,432.9 L1019.3,433.9 L1019.4,434.9 L1019.5,435.9 L1019.6,436.9 L1019.7,438.0 L1019.8,439.0 L1019.9,440.0 L1020.0,441.0 L1020.1,442.0 L1020.2,443.0 L1020.3,444.0 L1020.4,445.0 L1020.5,446.0 L1020.6,447.0 L1020.7,448.0 L1020.8,449.1 L1020.9,450.1 L1021.0,451.1 L1021.1,452.2 L1021.2,453.0 L1021.3,454.3 L1021.4,455.7 L1021.5,456.6 L1021.6,456.4 L1021.7,458.1 L1021.8,458.1 L1021.9,460.1 L1022.0,461.0 L1022.1,462.3 L1022.2,462.9 L1022.3,463.8 L1022.4,464.3 L1022.5,465.8 L1022.6,465.3 L1022.7,465.4 L1022.8,466.3 L1022.9,467.7 L1023.0,467.4 L1023.1,466.5 L1023.2,467.2 L1023.3,468.8 L1023.4,469.1 L1023.5,469.4 L1023.6,470.4 L1023.7,470.8 L1023.8,471.2 L1023.9,471.2 L1024.0,471.6 L1024.1,472.8 L1024.2,473.5 L1024.3,473.1 L1024.4,474.1 L1024.5,473.7 L1024.6,474.5 L1024.7,474.8 L1024.8,476.2 L1024.9,477.1 L1025.0,477.0 L1025.1,477.5 L1025.2,478.3 L1025.3,479.5 L1025.4,478.8 L1025.5,478.7 L1025.6,479.4 L1025.7,478.8 L1025.8,480.3 L1025.9,481.5 L1026.4,484.0 L1026.9,485.2 L1027.4,486.2 L1027.9,487.8 L1028.4,488.3 L1028.9,491.4 L1029.4,492.5 L1029.9,493.5 L1030.4,496.1 L1030.9,496.8 L1031.4,497.0 L1031.9,499.7 L1032.4,500.0 L1032.9,499.9 L1033.4,502.2 L1033.9,502.2 L1034.4,502.5 L1034.9,504.5 L1035.4,504.0 L1035.9,505.2 L1036.4,505.0 L1036.9,504.9 L1037.4,505.8 L1037.9,508.0 L1038.4,507.5 L1038.9,510.0 L1039.4,507.2 L1039.9,509.4 L1040.4,508.5 L1040.9,509.9 L1041.4,509.8 L1041.9,509.6 L1043.0,508.3 L1043.8,513.7 L1044.4,511.9 L1045.2,511.9 L1046.1,510.0 L1046.8,508.9 L1047.6,514.2 L1048.5,515.3 L1049.5,513.0 L1050.2,517.4 L1051.2,516.5 L1051.9,513.8 L1052.7,517.6 L1053.7,512.4 L1054.4,514.5 L1055.1,516.8 L1055.9,515.0 L1056.7,520.5 L1057.3,517.5 L1058.1,516.9 L1059.1,518.5 L1059.7,517.6 L1060.4,518.0 L1061.1,518.2 L1062.0,519.7 L1062.7,513.0 L1063.4,520.4 L1064.0,518.2 L1064.8,517.3 L1065.7,515.8 L1066.6,519.1 L1067.5,517.9 L1068.3,515.2 L1069.1,515.3 L1070.0,520.8 L1070.7,517.8 L1071.0,519.2 L1071.3,546.0 L1071.6,519.2 L1071.6,516.6 L1072.6,516.2 L1073.6,515.2 L1074.5,518.0 L1075.3,520.8 L1076.2,520.0 L1076.8,519.2 L1077.5,518.2 L1078.4,519.7 L1079.3,519.9 L1080.1,521.3 L1080.8,518.2 L1081.6,518.2 L1082.4,522.4 L1083.2,518.3 L1084.2,521.0 L1085.1,521.6 L1085.8,518.6 L1086.6,518.8 L1087.4,518.9 L1088.3,516.9 L1089.0,518.2 L1089.7,523.8 L1090.5,517.9 L1091.3,521.0 L1092.0,515.1 L1092.9,520.2 L1093.5,518.7 L1094.2,518.5 L1095.0,517.5 L1095.9,521.1 L1096.6,521.0 L1097.3,517.7 L1098.0,520.8 L1098.9,517.6 L1099.7,517.3 L1100.4,519.1 L1101.1,515.5 L1102.1,520.8 L1102.8,526.7 L1103.6,519.3 L1104.4,520.3 L1105.1,512.7 L1105.9,521.2 L1106.9,521.2 L1107.7,521.0 L1108.4,526.0 L1109.2,519.8 L1109.9,519.9 L1110.9,520.6 L1111.5,524.1 L1112.4,521.3 L1113.2,517.1 L1113.8,519.1 L1114.7,520.3 L1115.5,521.5 L1116.2,519.0 L1117.1,519.3 L1118.0,517.9 L1118.8,517.8 L1119.8,519.1 L1120.7,524.0 L1121.4,522.8 L1122.3,516.8 L1123.1,519.2 L1123.9,513.8 L1124.7,518.3 L1125.6,518.3 L1126.5,517.0 L1127.5,518.3 L1128.3,525.9 L1129.2,513.5 L1130.0,520.7 L1130.6,519.8 L1131.6,517.0 L1132.4,518.6 L1133.3,519.7 L1134.2,526.3 L1134.9,518.2 L1135.7,519.6 L1136.7,517.2 L1137.4,520.6 L1138.3,517.8 L1139.0,514.6 L1139.6,521.4 L1140.6,522.4 L1141.2,524.5 L1142.2,519.1 L1143.0,521.0 L1143.9,519.2 L1144.7,523.3 L1145.4,518.9 L1146.1,519.6 L1146.8,520.1 L1147.7,517.9 L1148.4,519.9 L1149.2,524.6 L1149.9,519.4 L1150.9,520.1 L1151.6,516.6 L1152.4,517.0 L1153.1,517.8 L1154.1,526.5 L1154.8,517.3 L1155.7,521.6 L1156.3,521.0 L1157.1,518.1 L1157.8,518.0 L1158.7,519.9 L1159.6,518.8 L1160.5,520.2 L1161.4,522.6 L1162.3,522.1 L1163.2,519.3 L1164.0,518.6 L1164.6,520.5 L1165.4,515.0 L1166.3,519.9 L1167.0,518.9 L1167.2,519.5 L1167.5,506.0 L1167.8,519.5 L1167.9,518.5 L1168.6,521.3 L1169.4,521.7 L1170.3,513.4 L1171.2,516.7 L1172.1,518.6 L1173.1,522.0 L1173.8,517.7 L1174.6,521.7 L1175.3,514.6 L1176.2,517.4 L1176.9,519.9 L1177.2,519.5 L1177.5,513.4 L1177.5,500.0 L1177.8,519.5 L1178.3,512.4 L1179.2,522.1 L1180.1,520.6 L1181.1,520.2 L1181.9,522.6 L1182.6,523.5 L1183.5,514.5 L1184.3,518.9 L1185.1,515.8 L1186.0,519.7 L1186.8,521.6 L1187.7,515.6 L1188.7,523.7 L1189.6,518.4 L1190.3,518.1 L1191.3,520.4 L1192.0,520.5 L1193.0,527.1 L1193.6,516.5 L1194.2,515.4 L1195.1,520.3 L1195.8,519.1 L1196.5,518.8 L1196.6,519.6 L1196.9,532.0 L1197.1,515.6 L1197.2,519.6 L1197.8,519.7 L1198.7,517.0 L1199.4,524.7 L1200.2,515.3 L1201.0,519.8 L1202.0,520.6 L1202.8,517.3 L1203.6,519.5 L1203.8,520.4 L1203.9,407.3 L1204.0,350.5 L1204.1,349.4 L1204.2,348.3 L1204.3,347.2 L1204.4,346.1 L1204.5,345.0 L1204.6,343.9 L1204.7,342.8 L1204.8,341.7 L1204.9,340.6 L1205.0,339.5 L1205.1,338.4 L1205.1,338.4 L1205.2,340.2 L1205.3,342.0 L1205.4,343.8 L1205.5,345.7 L1205.6,347.5 L1205.7,349.3 L1205.8,351.1 L1205.9,352.9 L1206.0,358.4 L1206.1,363.8 L1206.2,369.3 L1206.3,374.7 L1206.4,392.8 L1206.5,411.0 L1206.6,429.1 L1206.7,447.3 L1206.8,465.4 L1206.9,468.1 L1207.0,470.0 L1207.1,471.9 L1207.2,473.2 L1207.3,474.5 L1207.4,476.8 L1207.5,477.5 L1207.6,479.1 L1207.7,479.7 L1208.2,487.8 L1208.7,493.4 L1209.2,497.5 L1209.7,500.7 L1210.2,505.1 L1210.7,507.5 L1211.2,510.3 L1212.3,511.1 L1213.3,520.0 L1214.2,517.4 L1214.9,520.9 L1215.6,517.5 L1216.4,519.6 L1217.1,518.3 L1217.9,517.9 L1218.8,519.2 L1219.7,519.3 L1220.5,519.4 L1221.5,520.1 L1222.3,519.3 L1223.0,522.9 L1223.8,519.0 L1224.7,518.2 L1225.6,515.8 L1226.6,518.5 L1227.2,524.1 L1227.9,522.9 L1228.8,519.3 L1229.5,519.7 L1230.3,526.5 L1231.1,523.4 L1232.0,521.8 L1232.7,512.8 L1233.6,525.8 L1234.5,515.3 L1235.2,519.8 L1236.0,519.5 L1236.9,519.3 L1237.9,519.5 L1238.6,519.0 L1239.6,520.7 L1240.5,521.8 L1241.4,519.1 L1242.0,520.9 L1242.7,524.7 L1243.5,519.3 L1244.1,521.2 L1245.0,517.3 L1245.3,521.3 L1245.4,412.1 L1245.5,357.2 L1245.6,356.1 L1245.7,355.1 L1245.8,354.0 L1245.9,353.0 L1246.0,351.9 L1246.1,350.8 L1246.2,349.8 L1246.3,348.7 L1246.4,347.6 L1246.5,346.6 L1246.6,345.5 L1246.6,345.5 L1246.7,347.3 L1246.8,349.0 L1246.9,350.8 L1247.0,352.5 L1247.1,354.3 L1247.2,356.0 L1247.3,357.8 L1247.4,359.6 L1247.5,364.8 L1247.6,370.1 L1247.7,375.3 L1247.8,380.6 L1247.9,398.2 L1248.0,415.7 L1248.1,433.2 L1248.2,450.8 L1248.3,468.3 L1248.4,471.0 L1248.5,472.1 L1248.6,473.9 L1248.7,475.6 L1248.8,477.2 L1248.9,478.6 L1249.0,480.8 L1249.1,482.7 L1249.6,488.4 L1250.1,494.9 L1250.6,499.0 L1251.1,502.5 L1251.6,506.3 L1252.1,508.0 L1252.6,509.2 L1253.1,514.2 L1253.8,516.6 L1254.5,513.5 L1255.1,515.9 L1255.8,521.9 L1256.5,517.8 L1257.4,519.8 L1258.4,515.1 L1259.4,517.8 L1260.3,522.6 L1261.1,515.1 L1261.7,523.8 L1262.7,520.9 L1263.4,517.4 L1264.1,523.8 L1264.8,530.3 L1265.6,521.8 L1266.3,531.8 L1267.3,518.7 L1268.2,516.6 L1269.1,515.9 L1270.0,519.2 L1270.9,522.0 L1271.6,521.9 L1272.2,526.3 L1272.9,518.6 L1273.6,528.3 L1274.4,523.3 L1275.4,520.1 L1276.3,522.5 L1277.0,523.7 L1277.7,519.8 L1278.7,523.5 L1279.6,529.9 L1280.5,519.9 L1281.4,528.3 L1282.3,525.4 L1283.0,521.2 L1283.9,523.1 L1284.7,524.3 L1285.5,519.3 L1286.2,517.3 L1286.9,523.6 L1287.0,420.1 L1287.1,368.3 L1287.2,367.3 L1287.3,366.3 L1287.4,365.3 L1287.5,364.3 L1287.6,363.3 L1287.7,362.3 L1287.8,361.3 L1287.9,360.3 L1288.0,359.3 L1288.1,358.3 L1288.2,357.3 L1288.2,357.3 L1288.3,359.0 L1288.4,360.6 L1288.5,362.3 L1288.6,363.9 L1288.7,365.6 L1288.8,367.3 L1288.9,368.9 L1289.0,370.6 L1289.1,375.5 L1289.2,380.5 L1289.3,385.5 L1289.4,390.4 L1289.5,407.0 L1289.6,423.5 L1289.7,440.1 L1289.8,456.6 L1289.9,473.2 L1290.0,474.7 L1290.1,476.5 L1290.2,478.9 L1290.3,479.6 L1290.4,482.5 L1290.5,482.2 L1291.0,490.0 L1291.5,496.0 L1292.0,500.9 L1292.5,504.3 L1293.0,507.1 L1293.5,509.6 L1294.0,511.8 L1294.7,511.9 L1295.5,520.4 L1296.5,517.5 L1297.2,516.7 L1297.8,519.1 L1298.7,520.4 L1299.6,522.8 L1300.5,526.4 L1301.1,519.4 L1302.0,521.0 L1302.7,527.4 L1303.5,524.6 L1304.4,530.3 L1305.2,527.5 L1305.9,530.9 L1306.8,527.0 L1307.5,524.0 L1308.1,524.6 L1308.8,523.3 L1309.4,520.2 L1310.2,532.8 L1311.1,533.6 L1311.7,525.4 L1312.7,527.4 L1313.4,525.2 L1314.1,529.2 L1315.0,526.0 L1315.8,524.1 L1316.6,528.9 L1317.6,525.2 L1318.2,527.6 L1319.1,529.0 L1319.9,529.1 L1320.8,524.4 L1321.7,527.3 L1322.6,529.5 L1323.2,527.6 L1324.0,530.2 L1324.9,528.3 L1325.5,525.4 L1326.3,526.9 L1327.0,527.7 L1327.9,526.6 L1328.5,528.2 L1328.6,436.6 L1328.7,390.8 L1328.8,389.9 L1328.9,389.0 L1329.0,388.2 L1329.1,387.3 L1329.2,386.4 L1329.3,385.5 L1329.4,384.6 L1329.5,383.7 L1329.6,382.9 L1329.7,382.0 L1329.8,381.1 L1329.8,381.1 L1329.9,382.6 L1330.0,384.0 L1330.1,385.5 L1330.2,387.0 L1330.3,388.4 L1330.4,389.9 L1330.5,391.3 L1330.6,392.8 L1330.7,397.2 L1330.8,401.6 L1330.9,406.0 L1331.0,410.3 L1331.1,426.4 L1331.2,442.5 L1331.3,458.6 L1331.4,474.7 L1331.5,490.9 L1332.0,502.1 L1332.2,527.3 L1332.5,510.3 L1332.5,538.0 L1332.8,527.3 L1333.0,514.0 L1333.8,518.9 L1334.5,522.7 L1335.4,526.3 L1336.3,527.7 L1337.1,528.0 L1337.8,525.3 L1338.4,531.2 L1339.3,527.8 L1340.1,524.0 L1340.9,521.3 L1341.9,528.7 L1342.5,525.6 L1343.3,530.0 L1344.1,528.4 L1344.8,524.5 L1345.6,529.2 L1346.3,525.5 L1347.1,529.9 L1347.9,527.1 L1348.7,531.7 L1349.3,523.3 L1350.0,527.4 L1350.6,523.6 L1351.3,532.4 L1352.0,523.2 L1352.8,528.0 L1353.7,527.8 L1354.5,523.1 L1355.2,530.2 L1356.2,525.5 L1357.0,526.2 L1357.6,529.9 L1358.3,520.6 L1359.1,525.3 L1359.9,525.0 L1360.7,524.2 L1361.7,525.8 L1362.4,529.6 L1363.3,524.2 L1364.0,520.1 L1364.8,524.6 L1365.7,526.1 L1366.3,527.2 L1367.2,529.9 L1367.8,528.5 L1368.4,527.8 L1369.3,525.4 L1369.8,526.6 L1369.9,436.2 L1370.0,390.2 L1370.1,389.3 L1370.2,388.4 L1370.3,387.6 L1370.4,386.7 L1370.5,385.8 L1370.6,384.9 L1370.7,384.0 L1370.8,383.1 L1370.9,382.2 L1371.0,381.3 L1371.1,380.4 L1371.1,380.4 L1371.2,381.9 L1371.3,383.3 L1371.4,384.8 L1371.5,386.3 L1371.6,387.7 L1371.7,389.2 L1371.8,390.7 L1371.9,392.1 L1372.0,396.5 L1372.1,401.0 L1372.2,405.4 L1372.3,409.8 L1372.4,425.9 L1372.5,442.1 L1372.6,458.2 L1372.7,474.4 L1372.8,490.7 L1373.3,501.5 L1373.8,509.4 L1374.3,514.7 L1375.1,516.2 L1375.9,522.1 L1376.5,522.7 L1377.5,527.5 L1378.2,526.1 L1379.0,541.5 L1379.6,527.7 L1380.5,528.6 L1381.1,527.0 L1381.9,525.3 L1382.9,529.0 L1383.6,523.4 L1384.4,523.7 L1385.2,527.7 L1385.8,525.6 L1386.5,525.7 L1387.2,527.3 L1387.8,525.5 L1388.6,525.5 L1389.3,528.2 L1390.0,527.5 L1390.7,517.0 L1391.7,528.2 L1392.4,534.0 L1393.3,524.3 L1394.0,532.7 L1394.8,524.9 L1395.7,527.5 L1396.3,527.8 L1397.0,527.2 L1397.7,524.6 L1398.6,530.8 L1399.6,527.4 L1400.3,529.0 L1401.3,521.8 L1402.3,523.3 L1403.3,524.0 L1403.9,524.9 L1404.9,529.0 L1405.7,525.7 L1406.5,529.1 L1407.2,527.0 L1408.0,525.1 L1408.7,528.4 L1409.4,522.6 L1410.2,525.5 L1410.9,530.5 L1411.3,525.3 L1411.4,432.6 L1411.5,384.8 L1411.6,383.9 L1411.7,383.0 L1411.8,382.0 L1411.9,381.1 L1412.0,380.2 L1412.1,379.2 L1412.2,378.3 L1412.3,377.4 L1412.4,376.5 L1412.5,375.5 L1412.6,374.6 L1412.6,374.6 L1412.7,376.1 L1412.8,377.7 L1412.9,379.2 L1413.0,380.7 L1413.1,382.2 L1413.2,383.8 L1413.3,385.3 L1413.4,386.8 L1413.5,391.4 L1413.6,396.0 L1413.7,400.5 L1413.8,405.1 L1413.9,421.9 L1414.0,438.7 L1414.1,455.4 L1414.2,472.2 L1414.3,489.3 L1414.8,500.1 L1415.3,507.8 L1415.8,514.4 L1416.6,516.7 L1417.5,526.1 L1418.4,522.6 L1419.1,523.3 L1419.2,527.1 L1419.5,536.0 L1419.8,527.1 L1419.9,522.2 L1420.7,528.0 L1421.5,529.8 L1422.3,525.4 L1423.1,528.6 L1424.1,526.3 L1424.9,526.3 L1425.8,518.1 L1426.8,524.9 L1427.7,527.2 L1428.6,528.1 L1429.2,523.7 L1430.1,527.1 L1430.9,532.5 L1431.6,526.3 L1432.4,531.3 L1433.2,527.4 L1434.1,532.5 L1435.1,527.6 L1435.7,530.2 L1436.7,527.8 L1437.4,525.8 L1438.3,528.0 L1439.0,526.4 L1439.9,526.8 L1440.7,520.4 L1441.4,525.4 L1442.3,525.3 L1442.9,525.9 L1443.6,523.9 L1444.4,525.8 L1445.3,528.6 L1446.0,525.9 L1446.9,529.9 L1447.8,524.3 L1448.8,528.8 L1449.7,527.4 L1450.6,531.0 L1451.6,525.6 L1452.3,524.1 L1453.2,526.0 L1453.2,526.3 L1453.3,430.4 L1453.4,381.6 L1453.5,380.7 L1453.6,379.7 L1453.7,378.8 L1453.8,377.8 L1453.9,376.9 L1454.0,375.9 L1454.1,375.0 L1454.2,374.0 L1454.3,373.1 L1454.4,372.1 L1454.5,371.2 L1454.5,371.2 L1454.6,372.8 L1454.7,374.3 L1454.8,375.9 L1454.9,377.4 L1455.0,379.0 L1455.1,380.5 L1455.2,382.1 L1455.3,383.7 L1455.4,388.3 L1455.5,393.0 L1455.6,397.7 L1455.7,402.4 L1455.8,419.5 L1455.9,436.6 L1456.0,453.8 L1456.1,470.9 L1456.2,488.7 L1456.7,500.3 L1457.2,508.4 L1457.7,513.8 L1458.9,519.1 L1459.6,520.2 L1460.3,528.4 L1461.3,530.2 L1462.1,527.0 L1462.8,524.7 L1463.8,523.2 L1464.5,529.0 L1465.5,528.4 L1466.3,525.8 L1467.0,525.2 L1467.6,523.1 L1468.3,530.0 L1469.2,526.9 L1470.0,524.7 L1470.7,526.4 L1471.7,526.8 L1472.3,524.4 L1472.9,529.5 L1473.6,524.9 L1474.3,526.3 L1475.1,524.8 L1475.9,535.2 L1476.6,522.9 L1477.3,524.7 L1478.0,529.4 L1478.8,524.9 L1479.8,525.1 L1480.7,525.6 L1481.6,523.7 L1482.3,528.1 L1483.2,525.5 L1483.8,524.1 L1484.4,527.1 L1485.3,523.3 L1486.3,521.2 L1487.0,522.7 L1487.9,523.8 L1488.7,526.5 L1489.5,522.5 L1490.1,523.6 L1490.9,521.3 L1491.7,524.0 L1491.7,522.7 L1492.0,500.0 L1492.3,522.7 L1492.5,523.2 L1493.1,527.3 L1494.1,526.1 L1494.7,522.5 L1494.8,425.1 L1494.9,376.2 L1495.0,375.2 L1495.1,374.2 L1495.2,373.2 L1495.3,372.3 L1495.4,371.3 L1495.5,370.3 L1495.6,369.3 L1495.7,368.3 L1495.8,367.4 L1495.9,366.4 L1496.0,365.4 L1496.0,365.4 L1496.1,366.9 L1496.2,368.4 L1496.3,370.0 L1496.4,371.5 L1496.5,373.0 L1496.6,374.5 L1496.7,376.0 L1496.8,377.6 L1496.9,382.2 L1497.0,386.9 L1497.1,391.5 L1497.2,396.1 L1497.3,413.3 L1497.4,430.4 L1497.5,447.5 L1497.6,464.7 L1497.7,481.9 L1498.2,494.0 L1498.7,501.6 L1499.2,507.4 L1500.1,518.3 L1500.8,514.8 L1501.7,516.4 L1502.3,516.7 L1503.2,514.0 L1504.1,516.0 L1504.7,517.5 L1505.7,514.4 L1506.3,517.9 L1507.0,513.8 L1507.8,518.7 L1508.4,518.2 L1509.4,514.2 L1510.0,512.5 L1511.0,509.1 L1511.8,512.6 L1512.7,518.9 L1513.3,518.4 L1514.1,510.5 L1514.9,507.0 L1515.9,516.4 L1516.7,515.0 L1517.4,512.9 L1518.2,513.3 L1519.1,512.0 L1519.9,507.5 L1520.6,508.7 L1521.5,506.8 L1522.2,513.5 L1523.1,509.9 L1523.9,499.4 L1524.7,503.4 L1525.4,505.9 L1526.3,510.3 L1527.2,502.0 L1528.1,502.9 L1529.1,507.3 L1529.7,505.5 L1530.6,505.6 L1531.5,504.6 L1532.4,495.6 L1533.1,505.5 L1534.0,493.9 L1534.7,501.9 L1535.4,501.8 L1536.1,501.8 L1536.2,500.3 L1536.3,401.2 L1536.4,351.6 L1536.5,350.7 L1536.6,349.7 L1536.7,348.7 L1536.8,347.7 L1536.9,346.7 L1537.0,345.7 L1537.1,344.7 L1537.2,343.8 L1537.3,342.8 L1537.4,341.8 L1537.5,340.8 L1537.5,340.8 L1537.6,342.6 L1537.7,344.3 L1537.8,346.1 L1537.9,347.9 L1538.0,349.6 L1538.1,351.4 L1538.2,353.2 L1538.3,354.9 L1538.4,359.9 L1538.5,364.8 L1538.6,369.7 L1538.7,374.7 L1538.8,392.3 L1538.9,409.9 L1539.0,427.4 L1539.1,445.0 L1539.2,462.9 L1539.7,474.9 L1540.2,485.3 L1540.7,492.0 L1541.3,499.6 L1542.1,499.1 L1542.9,509.7 L1543.6,509.5 L1544.6,518.7 L1545.2,513.6 L1545.9,511.9 L1546.6,513.5 L1547.2,506.2 L1548.2,510.6 L1549.0,507.5 L1549.8,514.4 L1550.6,516.4 L1551.5,510.0 L1552.3,514.7 L1553.3,511.5 L1554.0,512.4 L1555.0,520.3 L1555.9,511.6 L1556.6,508.5 L1557.4,512.5 L1558.4,515.1 L1559.0,513.7 L1559.9,519.3 L1560.8,511.1 L1561.6,507.9 L1562.0,510.8 L1562.3,493.5 L1562.6,505.3 L1562.6,510.8 L1562.7,510.6 L1563.0,530.0 L1563.3,510.6 L1563.5,508.2 L1564.1,511.8 L1564.8,506.9 L1565.7,507.8 L1566.4,510.8 L1567.1,507.8 L1568.0,507.5 L1568.7,510.2 L1569.4,509.4 L1570.1,506.3 L1571.0,504.8 L1571.6,502.3 L1572.3,507.3 L1573.1,509.4 L1574.0,508.9 L1575.0,505.3 L1575.7,505.9 L1576.5,502.0 L1577.3,504.8 L1578.1,511.5 L1578.1,504.1 L1578.2,405.1 L1578.3,354.9 L1578.4,353.9 L1578.5,352.9 L1578.6,351.9 L1578.7,350.9 L1578.8,349.9 L1578.9,348.9 L1579.0,347.9 L1579.1,346.9 L1579.2,345.9 L1579.3,344.9 L1579.4,343.9 L1579.4,343.9 L1579.5,345.6 L1579.6,347.3 L1579.7,349.1 L1579.8,350.8 L1579.9,352.5 L1580.0,354.2 L1580.1,355.9 L1580.2,357.6 L1580.3,362.6 L1580.4,367.5 L1580.5,372.4 L1580.6,377.3 L1580.7,395.0 L1580.8,412.8 L1580.9,430.5 L1581.0,448.2 L1581.1,464.7 L1581.2,468.1 L1581.7,480.3 L1582.2,489.6 L1582.7,494.4 L1583.7,501.5 L1584.3,512.8 L1584.9,507.2 L1585.8,511.7 L1586.6,511.8 L1587.2,508.9 L1587.8,511.7 L1588.7,518.5 L1589.4,511.5 L1590.4,512.7 L1591.2,515.6 L1592.2,510.8 L1592.8,517.6 L1593.5,510.4 L1594.2,515.5 L1595.0,513.6 L1595.7,513.4 L1596.4,513.6 L1597.2,510.8 L1597.9,515.5 L1598.9,509.7 L1599.7,510.4 L1600.6,512.1 L1601.6,517.8 L1602.4,512.7 L1603.3,509.5 L1604.1,513.2 L1604.8,514.9 L1605.5,505.0 L1606.3,506.7 L1606.9,505.6 L1607.8,508.0 L1608.4,504.5 L1609.4,507.9 L1610.2,512.5 L1611.1,510.5 L1611.8,510.7 L1612.6,505.7 L1613.4,505.2 L1614.2,508.0 L1614.9,508.9 L1615.9,513.2 L1616.7,509.0 L1617.7,503.0 L1618.6,506.8 L1619.2,509.6 L1619.9,508.3 L1620.0,411.0 L1620.1,362.2 L1620.2,361.3 L1620.3,360.3 L1620.4,359.4 L1620.5,358.4 L1620.6,357.5 L1620.7,356.5 L1620.8,355.6 L1620.9,354.6 L1621.0,353.7 L1621.1,352.7 L1621.2,351.8 L1621.2,351.8 L1621.3,353.5 L1621.4,355.2 L1621.5,356.9 L1621.6,358.6 L1621.7,360.3 L1621.8,362.0 L1621.9,363.7 L1622.0,365.4 L1622.1,370.2 L1622.2,375.0 L1622.3,379.8 L1622.4,384.6 L1622.5,401.9 L1622.6,419.1 L1622.7,436.4 L1622.8,453.7 L1622.9,470.9 L1623.4,483.5 L1623.9,491.4 L1624.4,498.6 L1624.9,509.0 L1625.8,511.3 L1626.6,516.4 L1627.4,513.1 L1628.0,518.8 L1628.9,520.9 L1629.7,514.0 L1630.4,516.4 L1631.3,519.1 L1632.3,515.6 L1633.2,510.9 L1634.0,511.2 L1634.8,515.6 L1635.6,516.4 L1636.5,516.3 L1637.2,518.2 L1637.8,518.8 L1638.8,517.0 L1639.6,514.2 L1640.5,517.2 L1641.3,514.0 L1642.2,511.3 L1643.1,516.0 L1644.0,519.7 L1644.9,517.6 L1645.6,516.6 L1646.5,513.8 L1647.3,520.6 L1648.1,518.7 L1649.1,521.5 L1649.8,514.9 L1650.5,513.0 L1651.4,512.4 L1652.3,525.0 L1652.9,515.8 L1653.7,517.1 L1654.3,521.6 L1655.2,514.3 L1656.2,517.9 L1657.1,517.8 L1657.9,511.1 L1658.8,519.9 L1659.6,514.1 L1660.3,518.7 L1661.1,514.7 L1661.3,516.4 L1661.4,420.8 L1661.5,372.5 L1661.6,371.6 L1661.7,370.7 L1661.8,369.7 L1661.9,368.8 L1662.0,367.9 L1662.1,367.0 L1662.2,366.0 L1662.3,365.1 L1662.4,364.2 L1662.5,363.2 L1662.6,362.3 L1662.6,362.3 L1662.7,363.9 L1662.8,365.4 L1662.9,367.0 L1663.0,368.5 L1663.1,370.1 L1663.2,371.7 L1663.3,373.2 L1663.4,374.8 L1663.5,379.4 L1663.6,384.1 L1663.7,388.7 L1663.8,393.4 L1663.9,410.4 L1664.0,427.3 L1664.1,444.3 L1664.2,461.3 L1664.3,477.8 L1664.8,490.0 L1665.3,497.6 L1665.8,503.5 L1666.3,503.8 L1667.2,514.2 L1668.2,507.5 L1669.1,520.5 L1669.9,517.8 L1670.6,520.5 L1671.2,512.9 L1672.0,515.1 L1672.9,518.3 L1673.6,513.0 L1674.4,509.5 L1675.3,515.6 L1676.2,520.3 L1677.0,517.3 L1677.7,513.5 L1678.4,513.5 L1679.2,520.5 L1680.0,521.2 L1680.8,520.7 L1681.4,517.2 L1682.3,515.9 L1683.0,512.8 L1683.8,520.9 L1684.5,518.4 L1685.4,520.1 L1686.1,517.1 L1687.0,517.8 L1687.9,508.6 L1688.8,519.1 L1689.6,522.5 L1690.2,515.4 L1691.2,518.4 L1692.0,520.1 L1692.9,517.8 L1693.8,516.2 L1694.8,520.7 L1695.6,519.3 L1696.3,520.5 L1697.3,518.4 L1698.2,527.3 L1698.7,518.0 L1698.8,520.0 L1699.0,506.0 L1699.3,518.0 L1699.4,519.6 L1700.4,516.7 L1701.0,514.6 L1701.7,517.6 L1702.4,522.7 L1703.1,515.7 L1703.3,518.0 L1703.4,428.7 L1703.5,383.4 L1703.6,382.5 L1703.7,381.6 L1703.8,380.8 L1703.9,379.9 L1704.0,379.0 L1704.1,378.1 L1704.2,377.3 L1704.3,376.4 L1704.4,375.5 L1704.5,374.7 L1704.6,373.8 L1704.6,373.8 L1704.7,375.3 L1704.8,376.8 L1704.9,378.2 L1705.0,379.7 L1705.1,381.2 L1705.2,382.7 L1705.3,384.2 L1705.4,385.6 L1705.5,390.0 L1705.6,394.4 L1705.7,398.8 L1705.8,403.1 L1705.9,419.1 L1706.0,435.0 L1706.1,451.0 L1706.2,466.9 L1706.3,482.9 L1706.8,494.5 L1707.3,502.3 L1707.8,506.4 L1708.8,509.8 L1709.6,513.1 L1710.5,519.4 L1711.2,529.1 L1712.0,520.8 L1712.7,524.8 L1713.6,517.4 L1714.4,519.0 L1715.4,524.9 L1716.3,525.0 L1717.1,524.0 L1717.8,525.3 L1718.5,520.2 L1719.1,524.8 L1719.7,525.4 L1720.7,518.3 L1721.5,525.0 L1722.3,526.6 L1723.1,520.4 L1723.8,515.2 L1724.7,521.0 L1725.3,523.2 L1726.1,520.3 L1727.0,522.6 L1727.9,531.7 L1728.8,520.5 L1729.6,524.6 L1730.3,522.7 L1731.2,528.6 L1732.2,526.7 L1733.1,524.0 L1734.0,524.4 L1734.7,526.2 L1735.6,522.5 L1736.3,522.0 L1737.3,520.4 L1738.1,515.0 L1739.0,522.0 L1739.8,523.0 L1740.4,531.4 L1741.1,524.5 L1741.9,524.6 L1742.7,522.0 L1743.6,523.1" fill="none" stroke="#000" stroke-width="2.5" stroke-linejoin="round" stroke-linecap="round"/>
<rect x="425.55" y="45.55" width="110.9" height="46.2" fill="#fff" stroke="#3a3a3a" stroke-width="1.3"/>
<rect x="1328.25" y="46.75" width="111.0" height="45.4" fill="#fff" stroke="#3a3a3a" stroke-width="1.3"/>
<line x1="97.6" y1="189.8" x2="103.7" y2="189.8" stroke="#000" stroke-width="6.4" stroke-linecap="round"/>
<line x1="303.1" y1="189.5" x2="850.0" y2="189.5" stroke="#000" stroke-width="6.5" stroke-linecap="round"/>
<line x1="514.2" y1="245.8" x2="850.0" y2="245.8" stroke="#000" stroke-width="6.5" stroke-linecap="round"/>
<line x1="1001.2" y1="187.9" x2="1012.8" y2="187.9" stroke="#000" stroke-width="6.4" stroke-linecap="round"/>
<line x1="1177.0" y1="187.9" x2="1760.8" y2="187.9" stroke="#000" stroke-width="6.5" stroke-linecap="round"/>
<line x1="1490.8" y1="243.7" x2="1760.8" y2="243.7" stroke="#000" stroke-width="6.5" stroke-linecap="round"/>
<path d="M43.3,411.8 V553.8 H103.9" fill="none" stroke="#000" stroke-width="2.5" stroke-linejoin="round" stroke-linecap="round"/>
<path d="M954.3,410.6 V551.3 H1014.8" fill="none" stroke="#000" stroke-width="2.5" stroke-linejoin="round" stroke-linecap="round"/>
<line x1="168.50" y1="791.65" x2="168.50" y2="1259.98" stroke="#000" stroke-width="2.8"/>
<line x1="168.50" y1="1258.88" x2="181.30" y2="1258.88" stroke="#000" stroke-width="2.2"/>
<line x1="168.50" y1="1225.59" x2="175.70" y2="1225.59" stroke="#000" stroke-width="2.2"/>
<line x1="168.50" y1="1192.29" x2="181.30" y2="1192.29" stroke="#000" stroke-width="2.2"/>
<line x1="168.50" y1="1159.00" x2="175.70" y2="1159.00" stroke="#000" stroke-width="2.2"/>
<line x1="168.50" y1="1125.70" x2="181.30" y2="1125.70" stroke="#000" stroke-width="2.2"/>
<line x1="168.50" y1="1092.40" x2="175.70" y2="1092.40" stroke="#000" stroke-width="2.2"/>
<line x1="168.50" y1="1059.11" x2="181.30" y2="1059.11" stroke="#000" stroke-width="2.2"/>
<line x1="168.50" y1="1025.82" x2="175.70" y2="1025.82" stroke="#000" stroke-width="2.2"/>
<line x1="168.50" y1="992.52" x2="181.30" y2="992.52" stroke="#000" stroke-width="2.2"/>
<line x1="168.50" y1="959.23" x2="175.70" y2="959.23" stroke="#000" stroke-width="2.2"/>
<line x1="168.50" y1="925.93" x2="181.30" y2="925.93" stroke="#000" stroke-width="2.2"/>
<line x1="168.50" y1="892.63" x2="175.70" y2="892.63" stroke="#000" stroke-width="2.2"/>
<line x1="168.50" y1="859.34" x2="181.30" y2="859.34" stroke="#000" stroke-width="2.2"/>
<line x1="168.50" y1="826.05" x2="175.70" y2="826.05" stroke="#000" stroke-width="2.2"/>
<line x1="168.50" y1="792.75" x2="181.30" y2="792.75" stroke="#000" stroke-width="2.2"/>
<rect x="234.00" y="1121.80" width="56.95" height="3.90" fill="#c0c0c0" stroke="#000" stroke-width="2.0"/>
<rect x="291.55" y="1121.80" width="56.95" height="3.90" fill="#444444" stroke="#000" stroke-width="2.0"/>
<rect x="407.50" y="1125.70" width="56.25" height="31.70" fill="#c0c0c0" stroke="#000" stroke-width="2.6"/>
<rect x="409.30" y="1127.50" width="52.65" height="28.10" fill="none" stroke="#e4e4e4" stroke-width="1"/>
<rect x="464.95" y="1125.70" width="56.25" height="80.00" fill="#444444" stroke="#000" stroke-width="2.6"/>
<rect x="466.75" y="1127.50" width="52.65" height="76.40" fill="none" stroke="#4e4e4e" stroke-width="1"/>
<rect x="580.20" y="1106.70" width="56.35" height="19.00" fill="#c0c0c0" stroke="#000" stroke-width="2.2"/>
<rect x="581.80" y="1108.30" width="53.15" height="15.80" fill="none" stroke="#e4e4e4" stroke-width="1"/>
<rect x="637.55" y="969.70" width="55.95" height="156.00" fill="#444444" stroke="#000" stroke-width="2.6"/>
<rect x="639.35" y="971.50" width="52.35" height="152.40" fill="none" stroke="#4e4e4e" stroke-width="1"/>
<line x1="203.70" y1="1125.70" x2="724.40" y2="1125.70" stroke="#000" stroke-width="2.6" stroke-linecap="round"/>
<path d="M426.4,1115.8 H445.0 M435.7,1115.8 V1200.6 M426.4,1200.6 H445.0" fill="none" stroke="#000" stroke-width="2.0"/>
<path d="M483.7,1178.9 H502.3 M493.0,1178.9 V1233.1 M483.7,1233.1 H502.3" fill="none" stroke="#000" stroke-width="2.0"/>
<path d="M598.7,1055.6 H617.3 M608.0,1055.6 V1157.4 M598.7,1157.4 H617.3" fill="none" stroke="#000" stroke-width="2.0"/>
<path d="M656.6,864.4 H675.2 M665.9,864.4 V1074.0 M656.6,1074.0 H675.2" fill="none" stroke="#000" stroke-width="2.0"/>
<path d="M608.2,1042.6 V826.2 H666 V853" fill="none" stroke="#000" stroke-width="1.7" stroke-linejoin="round"/>
<rect x="224.50" y="795.00" width="134.20" height="64.20" fill="#fff" stroke="#444" stroke-width="1.3"/>
<rect x="231.05" y="798.45" width="55.30" height="26.80" fill="#c0c0c0" stroke="#000" stroke-width="2.3"/>
<rect x="232.75" y="800.15" width="51.90" height="23.40" fill="none" stroke="#ececec" stroke-width="1.1"/>
<rect x="231.05" y="829.85" width="55.30" height="26.50" fill="#444444" stroke="#000" stroke-width="2.3"/>
<rect x="232.75" y="831.55" width="51.90" height="23.10" fill="none" stroke="#505050" stroke-width="1.1"/>
<line x1="1097.20" y1="780.60" x2="1097.20" y2="1253.40" stroke="#000" stroke-width="2.8"/>
<line x1="1097.20" y1="1252.30" x2="1109.50" y2="1252.30" stroke="#000" stroke-width="2.2"/>
<line x1="1097.20" y1="1216.10" x2="1104.00" y2="1216.10" stroke="#000" stroke-width="2.2"/>
<line x1="1097.20" y1="1179.90" x2="1109.50" y2="1179.90" stroke="#000" stroke-width="2.2"/>
<line x1="1097.20" y1="1143.70" x2="1104.00" y2="1143.70" stroke="#000" stroke-width="2.2"/>
<line x1="1097.20" y1="1107.50" x2="1109.50" y2="1107.50" stroke="#000" stroke-width="2.2"/>
<line x1="1097.20" y1="1071.30" x2="1104.00" y2="1071.30" stroke="#000" stroke-width="2.2"/>
<line x1="1097.20" y1="1035.10" x2="1109.50" y2="1035.10" stroke="#000" stroke-width="2.2"/>
<line x1="1097.20" y1="998.90" x2="1104.00" y2="998.90" stroke="#000" stroke-width="2.2"/>
<line x1="1097.20" y1="962.70" x2="1109.50" y2="962.70" stroke="#000" stroke-width="2.2"/>
<line x1="1097.20" y1="926.50" x2="1104.00" y2="926.50" stroke="#000" stroke-width="2.2"/>
<line x1="1097.20" y1="890.30" x2="1109.50" y2="890.30" stroke="#000" stroke-width="2.2"/>
<line x1="1097.20" y1="854.10" x2="1104.00" y2="854.10" stroke="#000" stroke-width="2.2"/>
<line x1="1097.20" y1="817.90" x2="1109.50" y2="817.90" stroke="#000" stroke-width="2.2"/>
<line x1="1097.20" y1="781.70" x2="1104.00" y2="781.70" stroke="#000" stroke-width="2.2"/>
<rect x="1163.50" y="842.70" width="56.90" height="409.70" fill="#c0c0c0" stroke="#000" stroke-width="2.6"/>
<rect x="1165.30" y="844.50" width="53.30" height="406.10" fill="none" stroke="#e4e4e4" stroke-width="1"/>
<rect x="1221.60" y="860.10" width="56.90" height="392.30" fill="#444444" stroke="#000" stroke-width="2.6"/>
<rect x="1223.40" y="861.90" width="53.30" height="388.70" fill="none" stroke="#4e4e4e" stroke-width="1"/>
<rect x="1337.50" y="940.80" width="57.15" height="311.60" fill="#c0c0c0" stroke="#000" stroke-width="2.6"/>
<rect x="1339.30" y="942.60" width="53.55" height="308.00" fill="none" stroke="#e4e4e4" stroke-width="1"/>
<rect x="1395.85" y="992.60" width="57.15" height="259.80" fill="#444444" stroke="#000" stroke-width="2.6"/>
<rect x="1397.65" y="994.40" width="53.55" height="256.20" fill="none" stroke="#4e4e4e" stroke-width="1"/>
<rect x="1512.50" y="974.50" width="56.70" height="277.90" fill="#c0c0c0" stroke="#000" stroke-width="2.6"/>
<rect x="1514.30" y="976.30" width="53.10" height="274.30" fill="none" stroke="#e4e4e4" stroke-width="1"/>
<rect x="1570.40" y="921.90" width="56.70" height="330.50" fill="#444444" stroke="#000" stroke-width="2.6"/>
<rect x="1572.20" y="923.70" width="53.10" height="326.90" fill="none" stroke="#4e4e4e" stroke-width="1"/>
<line x1="1132.20" y1="1252.40" x2="1657.70" y2="1252.40" stroke="#000" stroke-width="2.2" stroke-linecap="round"/>
<path d="M1183.0,810.4 H1201.6 M1192.3,810.4 V875.9 M1183.0,875.9 H1201.6" fill="none" stroke="#000" stroke-width="2.0"/>
<path d="M1240.7,832.3 H1259.3 M1250.0,832.3 V887.2 M1240.7,887.2 H1259.3" fill="none" stroke="#000" stroke-width="2.0"/>
<path d="M1357.0,903.0 H1375.6 M1366.3,903.0 V977.4 M1357.0,977.4 H1375.6" fill="none" stroke="#000" stroke-width="2.0"/>
<path d="M1415.1,955.7 H1433.7 M1424.4,955.7 V1029.1 M1415.1,1029.1 H1433.7" fill="none" stroke="#000" stroke-width="2.0"/>
<path d="M1531.1,964.7 H1549.7 M1540.4,964.7 V983.7 M1531.1,983.7 H1549.7" fill="none" stroke="#000" stroke-width="2.0"/>
<path d="M1589.4,870.0 H1608.0 M1598.7,870.0 V971.9 M1589.4,971.9 H1608.0" fill="none" stroke="#000" stroke-width="2.0"/>
<path d="M1540.4,944.7 V817.0 H1599 V854.4" fill="none" stroke="#000" stroke-width="1.7" stroke-linejoin="round"/>
<rect x="1351.90" y="787.50" width="126.90" height="64.20" fill="#fff" stroke="#444" stroke-width="1.3"/>
<rect x="1356.40" y="790.95" width="55.20" height="26.80" fill="#c0c0c0" stroke="#000" stroke-width="2.3"/>
<rect x="1358.10" y="792.65" width="51.80" height="23.40" fill="none" stroke="#ececec" stroke-width="1.1"/>
<rect x="1356.40" y="822.35" width="55.20" height="26.50" fill="#444444" stroke="#000" stroke-width="2.3"/>
<rect x="1358.10" y="824.05" width="51.80" height="23.10" fill="none" stroke="#505050" stroke-width="1.1"/>
<text transform="translate(26.62,70.02) scale(0.9747,1)" font-size="88.00" >a</text>
<text transform="translate(937.38,70.60) scale(1.0166,1)" font-size="88.08" >b</text>
<text transform="translate(29.17,759.32) scale(1.0465,1)" font-size="88.00" >c</text>
<text transform="translate(968.42,761.33) scale(1.0106,1)" font-size="87.30" >d</text>
<text transform="translate(436.47,78.70) scale(0.9971,1)" font-size="29.50" >control</text>
<text transform="translate(1340.18,78.80) scale(0.9904,1)" font-size="29.50" >cancer</text>
<text transform="translate(79.96,182.80) scale(0.9880,1)" font-size="25.20" >KCl</text>
<text transform="translate(526.95,179.90) scale(0.9852,1)" font-size="25.10" >ATR 1 <tspan style="font-family:'Liberation Serif', serif">μ</tspan>M</text>
<text transform="translate(662.11,237.00) scale(0.9919,1)" font-size="25.00" >CAP 10 <tspan style="font-family:'Liberation Serif', serif">μ</tspan>M</text>
<text transform="translate(990.20,180.80) scale(1.0150,1)" font-size="25.20" >KCl</text>
<text transform="translate(1438.05,178.20) scale(0.9833,1)" font-size="25.10" >ATR 1 <tspan style="font-family:'Liberation Serif', serif">μ</tspan>M</text>
<text transform="translate(1572.91,235.20) scale(0.9919,1)" font-size="25.00" >CAP 10 <tspan style="font-family:'Liberation Serif', serif">μ</tspan>M</text>
<text transform="translate(40.29,579.00) scale(1.1086,1)" font-size="23.90" >5 min</text>
<text transform="translate(34.90,543.84) rotate(-90) scale(0.9848,1)" font-size="27.60" >0.5 of KCl</text>
<text transform="translate(950.99,576.30) scale(1.1140,1)" font-size="23.90" >5 min</text>
<text transform="translate(945.30,541.53) rotate(-90) scale(0.9805,1)" font-size="27.60" >0.5 of KCl</text>
<text transform="translate(98.55,1265.88) scale(0.9876,1)" font-size="25.20" >-0.04</text>
<text transform="translate(98.55,1199.29) scale(0.9966,1)" font-size="25.20" >-0.02</text>
<text transform="translate(106.75,1132.70) scale(0.9931,1)" font-size="25.20" >0.00</text>
<text transform="translate(106.74,1066.11) scale(0.9985,1)" font-size="25.20" >0.02</text>
<text transform="translate(106.75,999.52) scale(0.9878,1)" font-size="25.20" >0.04</text>
<text transform="translate(106.74,932.93) scale(0.9985,1)" font-size="25.20" >0.06</text>
<text transform="translate(106.74,866.34) scale(0.9985,1)" font-size="25.20" >0.08</text>
<text transform="translate(106.75,799.75) scale(0.9931,1)" font-size="25.20" >0.10</text>
<text transform="translate(86.00,1184.83) rotate(-90) scale(0.9891,1)" font-size="29.50" >Tension, fold of KCl</text>
<text transform="translate(628.85,829.60) scale(0.9487,1)" font-size="40.00" font-weight="bold">*</text>
<text transform="translate(237.30,1259.60) scale(1.0108,1)" font-size="25.30" >Pre-drug</text>
<text transform="translate(426.60,1259.60) scale(0.9897,1)" font-size="25.30" >+ATR</text>
<text transform="translate(568.10,1259.60) scale(0.9874,1)" font-size="25.30" >+ATR+CAP</text>
<text transform="translate(293.57,820.80) scale(1.0022,1)" font-size="25.50" >Ctrl</text>
<text transform="translate(293.57,851.00) scale(1.0054,1)" font-size="25.50" >Cncr</text>
<text transform="translate(1048.86,1259.30) scale(0.9815,1)" font-size="25.20" >0.0</text>
<text transform="translate(1048.85,1186.90) scale(0.9890,1)" font-size="25.20" >0.2</text>
<text transform="translate(1048.87,1114.50) scale(0.9740,1)" font-size="25.20" >0.4</text>
<text transform="translate(1048.86,1042.10) scale(0.9815,1)" font-size="25.20" >0.6</text>
<text transform="translate(1048.86,969.70) scale(0.9815,1)" font-size="25.20" >0.8</text>
<text transform="translate(1049.62,897.30) scale(0.9593,1)" font-size="25.20" >1.0</text>
<text transform="translate(1049.60,824.90) scale(0.9669,1)" font-size="25.20" >1.2</text>
<text transform="translate(1561.65,821.66) scale(0.9607,1)" font-size="42.70" font-weight="bold">*</text>
<text transform="translate(1165.98,1281.80) scale(1.0245,1)" font-size="25.30" >Pre-drug</text>
<text transform="translate(1356.67,1281.80) scale(1.0105,1)" font-size="25.30" >+ATR</text>
<text transform="translate(1499.59,1281.80) scale(0.9997,1)" font-size="25.30" >+ATR+CAP</text>
<text transform="translate(1419.07,813.00) scale(1.0022,1)" font-size="25.50" >Ctrl</text>
<text transform="translate(1419.07,843.20) scale(1.0054,1)" font-size="25.50" >Cncr</text>
<text transform="translate(1020.80,1139.40) rotate(-90)" font-size="29.5"><tspan x="1.79" font-size="29.5" textLength="19.20" lengthAdjust="spacingAndGlyphs" font-style="italic">A</tspan><tspan x="20.95" font-size="18.7" textLength="31.52" lengthAdjust="spacingAndGlyphs" >EFS</tspan><tspan x="51.86" font-size="29.5" textLength="154.25" lengthAdjust="spacingAndGlyphs" >, fold of KCl</tspan></text>
</svg>
</body>
</html>
